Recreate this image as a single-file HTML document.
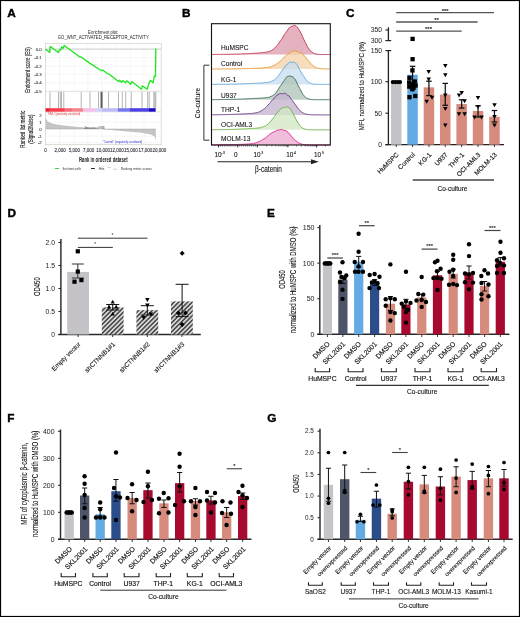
<!DOCTYPE html>
<html><head><meta charset="utf-8"><style>
html,body{margin:0;padding:0;background:#fff;width:520px;height:617px;overflow:hidden}
svg{display:block;font-family:"Liberation Sans",sans-serif;will-change:transform}
</style></head><body>
<svg width="520" height="617" viewBox="0 0 520 617">
<rect width="520" height="617" fill="#fff"/>
<rect x="0.5" y="0.5" width="519" height="616" fill="none" stroke="#000" stroke-width="1.2"/>
<text x="7.2" y="16.8" font-size="11.8" text-anchor="start" fill="#000" font-weight="bold" stroke="#000" stroke-width="0.4" >A</text>
<text x="103.3" y="33.5" font-size="4.9" text-anchor="middle" fill="#222" textLength="30.4" lengthAdjust="spacingAndGlyphs" >Enrichment plot:</text>
<text x="103.3" y="38.7" font-size="4.9" text-anchor="middle" fill="#222" textLength="90.9" lengthAdjust="spacingAndGlyphs" >GO_WNT_ACTIVATED_RECEPTOR_ACTIVITY</text>
<line x1="59.6" y1="43.3" x2="59.6" y2="91.3" stroke="#ececec" stroke-width="0.5"/>
<line x1="59.6" y1="111.9" x2="59.6" y2="144.7" stroke="#ececec" stroke-width="0.5"/>
<line x1="74" y1="43.3" x2="74" y2="91.3" stroke="#ececec" stroke-width="0.5"/>
<line x1="74" y1="111.9" x2="74" y2="144.7" stroke="#ececec" stroke-width="0.5"/>
<line x1="87.8" y1="43.3" x2="87.8" y2="91.3" stroke="#ececec" stroke-width="0.5"/>
<line x1="87.8" y1="111.9" x2="87.8" y2="144.7" stroke="#ececec" stroke-width="0.5"/>
<line x1="102.2" y1="43.3" x2="102.2" y2="91.3" stroke="#ececec" stroke-width="0.5"/>
<line x1="102.2" y1="111.9" x2="102.2" y2="144.7" stroke="#ececec" stroke-width="0.5"/>
<line x1="116" y1="43.3" x2="116" y2="91.3" stroke="#ececec" stroke-width="0.5"/>
<line x1="116" y1="111.9" x2="116" y2="144.7" stroke="#ececec" stroke-width="0.5"/>
<line x1="130" y1="43.3" x2="130" y2="91.3" stroke="#ececec" stroke-width="0.5"/>
<line x1="130" y1="111.9" x2="130" y2="144.7" stroke="#ececec" stroke-width="0.5"/>
<line x1="144" y1="43.3" x2="144" y2="91.3" stroke="#ececec" stroke-width="0.5"/>
<line x1="144" y1="111.9" x2="144" y2="144.7" stroke="#ececec" stroke-width="0.5"/>
<line x1="45.4" y1="57.58" x2="161.2" y2="57.58" stroke="#ececec" stroke-width="0.5"/>
<line x1="45.4" y1="65.96" x2="161.2" y2="65.96" stroke="#ececec" stroke-width="0.5"/>
<line x1="45.4" y1="74.34" x2="161.2" y2="74.34" stroke="#ececec" stroke-width="0.5"/>
<line x1="45.4" y1="82.72" x2="161.2" y2="82.72" stroke="#ececec" stroke-width="0.5"/>
<line x1="45.4" y1="115" x2="161.2" y2="115" stroke="#ececec" stroke-width="0.5"/>
<line x1="45.4" y1="122.2" x2="161.2" y2="122.2" stroke="#ececec" stroke-width="0.5"/>
<line x1="45.4" y1="136.2" x2="161.2" y2="136.2" stroke="#ececec" stroke-width="0.5"/>
<line x1="45.4" y1="142.8" x2="161.2" y2="142.8" stroke="#ececec" stroke-width="0.5"/>
<line x1="45.4" y1="49.2" x2="161.2" y2="49.2" stroke="#d4d4d4" stroke-width="1.3"/>
<rect x="45.4" y="43.3" width="115.8" height="101.4" fill="none" stroke="#cfcfc4" stroke-width="0.7"/>
<line x1="45.4" y1="91.3" x2="161.2" y2="91.3" stroke="#cfcfc4" stroke-width="0.6"/>
<line x1="45.4" y1="111.9" x2="161.2" y2="111.9" stroke="#cfcfc4" stroke-width="0.6"/>
<text x="41.8" y="50.8" font-size="4.4" text-anchor="end" fill="#444" stroke="#444" stroke-width="0.1" >0.0</text>
<text x="41.8" y="59.18" font-size="4.4" text-anchor="end" fill="#444" stroke="#444" stroke-width="0.1" >-0.1</text>
<text x="41.8" y="67.56" font-size="4.4" text-anchor="end" fill="#444" stroke="#444" stroke-width="0.1" >-0.2</text>
<text x="41.8" y="75.94" font-size="4.4" text-anchor="end" fill="#444" stroke="#444" stroke-width="0.1" >-0.3</text>
<text x="41.8" y="84.32" font-size="4.4" text-anchor="end" fill="#444" stroke="#444" stroke-width="0.1" >-0.4</text>
<text x="41.8" y="92.7" font-size="4.4" text-anchor="end" fill="#444" stroke="#444" stroke-width="0.1" >-0.5</text>
<text x="30" y="70" font-size="7" text-anchor="middle" fill="#222" stroke="#222" stroke-width="0.15" textLength="45.7" lengthAdjust="spacingAndGlyphs" transform="rotate(-90 30 70)" >Enrichment score (ES)</text>
<polyline points="45.4,49.2 49.8,52.4 50.3,46.4 58.4,52.6 59.6,49.6 60.7,50 61.5,47 63,48.3 64.2,45.5 79.8,57 81.1,57 90,63.4 101.5,70.8 102.6,70 107.7,73.8 109.2,74.2 118.5,81.5 119.5,80.3 121.5,82.3 123,80.8 125.4,82.8 126.9,80.8 130.8,84.3 131.8,81.5 141.5,89.2 142.3,85.8 147.2,89.2 148.5,84.6 150.3,80.3 153.1,82.8 154.3,76.2 155.5,76.6 155.8,48.5" fill="none" stroke="#1ee61e" stroke-width="1.3" stroke-linejoin="round"/>
<line x1="50" y1="91.8" x2="50" y2="108.2" stroke="#777" stroke-width="0.55"/>
<line x1="58.5" y1="91.8" x2="58.5" y2="108.2" stroke="#777" stroke-width="0.55"/>
<line x1="60.3" y1="91.8" x2="60.3" y2="108.2" stroke="#777" stroke-width="0.55"/>
<line x1="61.5" y1="91.8" x2="61.5" y2="108.2" stroke="#777" stroke-width="0.55"/>
<line x1="63.8" y1="91.8" x2="63.8" y2="108.2" stroke="#777" stroke-width="0.55"/>
<line x1="81.2" y1="91.8" x2="81.2" y2="108.2" stroke="#777" stroke-width="0.55"/>
<line x1="90" y1="91.8" x2="90" y2="108.2" stroke="#777" stroke-width="0.55"/>
<line x1="98.5" y1="91.8" x2="98.5" y2="108.2" stroke="#777" stroke-width="0.55"/>
<line x1="101.1" y1="91.8" x2="101.1" y2="108.2" stroke="#111" stroke-width="0.8"/>
<line x1="102" y1="91.8" x2="102" y2="108.2" stroke="#111" stroke-width="0.8"/>
<line x1="108.5" y1="91.8" x2="108.5" y2="108.2" stroke="#777" stroke-width="0.55"/>
<line x1="118.5" y1="91.8" x2="118.5" y2="108.2" stroke="#777" stroke-width="0.55"/>
<line x1="122.3" y1="91.8" x2="122.3" y2="108.2" stroke="#777" stroke-width="0.55"/>
<line x1="125.7" y1="91.8" x2="125.7" y2="108.2" stroke="#777" stroke-width="0.55"/>
<line x1="131.2" y1="91.8" x2="131.2" y2="108.2" stroke="#777" stroke-width="0.55"/>
<line x1="142" y1="91.8" x2="142" y2="108.2" stroke="#777" stroke-width="0.55"/>
<line x1="147.7" y1="91.8" x2="147.7" y2="108.2" stroke="#777" stroke-width="0.55"/>
<line x1="149.2" y1="91.8" x2="149.2" y2="108.2" stroke="#777" stroke-width="0.55"/>
<line x1="153.8" y1="91.8" x2="153.8" y2="108.2" stroke="#777" stroke-width="0.55"/>
<line x1="154.9" y1="91.8" x2="154.9" y2="108.2" stroke="#777" stroke-width="0.55"/>
<line x1="155.8" y1="91.8" x2="155.8" y2="108.2" stroke="#777" stroke-width="0.55"/>
<rect x="45.6" y="108.2" width="4.25" height="3.5" fill="#e41c2c" />
<rect x="49.8" y="108.2" width="15.05" height="3.5" fill="#f73a4a" />
<rect x="64.8" y="108.2" width="8.05" height="3.5" fill="#f76878" />
<rect x="72.8" y="108.2" width="10.45" height="3.5" fill="#f5848e" />
<rect x="83.2" y="108.2" width="11.65" height="3.5" fill="#f6bde6" />
<rect x="94.8" y="108.2" width="6.95" height="3.5" fill="#d2d0f8" />
<rect x="101.7" y="108.2" width="16.15" height="3.5" fill="#bdbcf6" />
<rect x="117.8" y="108.2" width="11.65" height="3.5" fill="#7575ee" />
<rect x="129.4" y="108.2" width="19.65" height="3.5" fill="#4e40e0" />
<rect x="149" y="108.2" width="6.65" height="3.5" fill="#1a0ac6" />
<text x="47.5" y="114.6" font-size="2.6" text-anchor="start" fill="#e03030" >"HML" (positively correlated)</text>
<polygon points="45.6,129 45.6,112.3 45.6,117.8 46.15,118.76 46.7,119.72 47.25,120.69 47.8,121.65 48.36,121.89 48.91,122.12 49.46,122.36 50.01,122.59 50.56,122.83 51.11,123.07 51.66,123.3 52.21,123.54 52.76,123.65 53.31,123.76 53.87,123.87 54.42,123.98 54.97,124.09 55.52,124.2 56.07,124.31 56.62,124.42 57.17,124.53 57.72,124.64 58.27,124.75 58.82,124.86 59.38,124.97 59.93,125.08 60.48,125.14 61.03,125.2 61.58,125.25 62.13,125.31 62.68,125.37 63.23,125.43 63.78,125.49 64.33,125.55 64.89,125.61 65.44,125.66 65.99,125.72 66.54,125.78 67.09,125.84 67.64,125.9 68.19,125.95 68.74,126.01 69.29,126.07 69.84,126.13 70.4,126.19 70.95,126.25 71.5,126.31 72.05,126.36 72.6,126.42 73.15,126.48 73.7,126.53 74.25,126.57 74.8,126.62 75.35,126.67 75.91,126.71 76.46,126.76 77.01,126.81 77.56,126.85 78.11,126.9 78.66,126.95 79.21,126.99 79.76,127.04 80.31,127.09 80.86,127.13 81.42,127.18 81.97,127.23 82.52,127.27 83.07,127.32 83.62,127.37 84.17,127.41 84.72,127.46 85.27,127.51 85.82,127.55 86.37,127.6 86.93,127.65 87.48,127.69 88.03,127.74 88.58,127.79 89.13,127.83 89.68,127.88 90.23,127.94 90.78,127.99 91.33,128.05 91.88,128.1 92.44,128.16 92.99,128.22 93.54,128.27 94.09,128.33 94.64,128.38 95.19,128.44 95.74,128.5 96.29,128.55 96.84,128.61 97.39,128.66 97.95,128.72 98.5,128.78 99.05,128.83 99.6,128.89 100.15,128.94 100.7,129 101.25,129.05 101.8,129.1 102.35,129.16 102.9,129.21 103.46,129.26 104.01,129.31 104.56,129.37 105.11,129.42 105.66,129.47 106.21,129.53 106.76,129.58 107.31,129.63 107.86,129.68 108.41,129.74 108.97,129.79 109.52,129.84 110.07,129.89 110.62,129.94 111.17,130 111.72,130.05 112.27,130.1 112.82,130.16 113.37,130.21 113.92,130.26 114.48,130.31 115.03,130.37 115.58,130.42 116.13,130.47 116.68,130.52 117.23,130.57 117.78,130.63 118.33,130.68 118.88,130.73 119.43,130.78 119.99,130.84 120.54,130.89 121.09,130.94 121.64,131 122.19,131.05 122.74,131.1 123.29,131.15 123.84,131.19 124.39,131.24 124.94,131.29 125.5,131.33 126.05,131.38 126.6,131.43 127.15,131.47 127.7,131.52 128.25,131.57 128.8,131.61 129.35,131.66 129.9,131.71 130.45,131.75 131.01,131.8 131.56,131.85 132.11,131.89 132.66,131.94 133.21,131.99 133.76,132.03 134.31,132.08 134.86,132.13 135.41,132.17 135.96,132.22 136.52,132.27 137.07,132.31 137.62,132.36 138.17,132.41 138.72,132.45 139.27,132.5 139.82,132.59 140.37,132.68 140.92,132.76 141.47,132.85 142.03,132.94 142.58,133.03 143.13,133.11 143.68,133.2 144.23,133.29 144.78,133.38 145.33,133.46 145.88,133.55 146.43,133.64 146.98,133.72 147.54,133.81 148.09,133.9 148.64,133.99 149.19,134.07 149.74,134.16 150.29,134.25 150.84,134.56 151.39,134.86 151.94,135.17 152.49,135.47 153.05,135.78 153.6,136.09 154.15,136.39 154.7,136.7 155.25,138.8 155.8,140.9 155.8,129" fill="#c4c4c4" />
<line x1="45.4" y1="129" x2="155.8" y2="129" stroke="#9a9a9a" stroke-width="0.4"/>
<text x="94.6" y="129" font-size="2.8" text-anchor="middle" fill="#222" textLength="20" lengthAdjust="spacingAndGlyphs" >Zero cross at 9736</text>
<text x="122.6" y="143" font-size="2.9" text-anchor="middle" fill="#3030e0" textLength="39" lengthAdjust="spacingAndGlyphs" >"Control" (negatively correlated)</text>
<text x="41.8" y="116.6" font-size="4.4" text-anchor="end" fill="#444" stroke="#444" stroke-width="0.1" >2</text>
<text x="41.8" y="123.8" font-size="4.4" text-anchor="end" fill="#444" stroke="#444" stroke-width="0.1" >1</text>
<text x="41.8" y="130.6" font-size="4.4" text-anchor="end" fill="#444" stroke="#444" stroke-width="0.1" >0</text>
<text x="41.8" y="137.8" font-size="4.4" text-anchor="end" fill="#444" stroke="#444" stroke-width="0.1" >-1</text>
<text x="41.8" y="144.4" font-size="4.4" text-anchor="end" fill="#444" stroke="#444" stroke-width="0.1" >-2</text>
<text x="24.6" y="129.2" font-size="6.6" text-anchor="middle" fill="#222" stroke="#222" stroke-width="0.15" textLength="37" lengthAdjust="spacingAndGlyphs" transform="rotate(-90 24.6 129.2)" >Ranked list metric</text>
<text x="33.4" y="129.2" font-size="6.6" text-anchor="middle" fill="#222" stroke="#222" stroke-width="0.15" textLength="29.2" lengthAdjust="spacingAndGlyphs" transform="rotate(-90 33.4 129.2)" >(Signal2Noise)</text>
<text x="45.6" y="151.9" font-size="4.5" text-anchor="middle" fill="#333" stroke="#333" stroke-width="0.1" >0</text>
<text x="60.2" y="151.9" font-size="4.5" text-anchor="middle" fill="#333" stroke="#333" stroke-width="0.1" >2,000</text>
<text x="74.4" y="151.9" font-size="4.5" text-anchor="middle" fill="#333" stroke="#333" stroke-width="0.1" >5,000</text>
<text x="88.6" y="151.9" font-size="4.5" text-anchor="middle" fill="#333" stroke="#333" stroke-width="0.1" >7,000</text>
<text x="103.1" y="151.9" font-size="4.5" text-anchor="middle" fill="#333" stroke="#333" stroke-width="0.1" >10,000</text>
<text x="117" y="151.9" font-size="4.5" text-anchor="middle" fill="#333" stroke="#333" stroke-width="0.1" >12,000</text>
<text x="131" y="151.9" font-size="4.5" text-anchor="middle" fill="#333" stroke="#333" stroke-width="0.1" >15,000</text>
<text x="145.5" y="151.9" font-size="4.5" text-anchor="middle" fill="#333" stroke="#333" stroke-width="0.1" >17,000</text>
<text x="159.5" y="151.9" font-size="4.5" text-anchor="middle" fill="#333" stroke="#333" stroke-width="0.1" >20,000</text>
<text x="103.3" y="161.7" font-size="6.3" text-anchor="middle" fill="#222" font-weight="bold" textLength="48.6" lengthAdjust="spacingAndGlyphs" >Rank in ordered dataset</text>
<line x1="54.9" y1="168.5" x2="59.2" y2="168.5" stroke="#22c022" stroke-width="0.8"/>
<text x="62.8" y="169.7" font-size="3.6" text-anchor="start" fill="#333" textLength="18.1" lengthAdjust="spacingAndGlyphs" >Enrichment profile</text>
<line x1="91" y1="168.5" x2="94.8" y2="168.5" stroke="#111" stroke-width="0.9"/>
<text x="98.9" y="169.7" font-size="3.6" text-anchor="start" fill="#333" textLength="5.6" lengthAdjust="spacingAndGlyphs" >Hits</text>
<line x1="107.4" y1="167.6" x2="111.2" y2="167.6" stroke="#aaa" stroke-width="0.5"/>
<line x1="113.2" y1="169.2" x2="117.2" y2="169.2" stroke="#999" stroke-width="0.5"/>
<text x="120.8" y="169.7" font-size="3.6" text-anchor="start" fill="#333" textLength="31" lengthAdjust="spacingAndGlyphs" >Ranking metric scores</text>
<text x="182" y="17.3" font-size="11.8" text-anchor="start" fill="#000" font-weight="bold" stroke="#000" stroke-width="0.4" >B</text>
<polygon points="211.5,54.5 211.5,54.46 212.2,54.46 212.9,54.46 213.6,54.45 214.3,54.45 215,54.45 215.7,54.44 216.4,54.44 217.1,54.43 217.8,54.43 218.5,54.42 219.2,54.42 219.9,54.41 220.6,54.4 221.3,54.4 222,54.39 222.7,54.38 223.4,54.37 224.1,54.37 224.8,54.36 225.5,54.35 226.2,54.34 226.9,54.33 227.6,54.31 228.3,54.3 229,54.29 229.7,54.28 230.4,54.26 231.1,54.25 231.8,54.23 232.5,54.22 233.2,54.2 233.9,54.18 234.6,54.16 235.3,54.15 236,54.13 236.7,54.11 237.4,54.08 238.1,54.06 238.8,54.04 239.5,54.01 240.2,53.99 240.9,53.96 241.6,53.94 242.3,53.91 243,53.88 243.7,53.85 244.4,53.82 245.1,53.79 245.8,53.76 246.5,53.72 247.2,53.69 247.9,53.65 248.6,53.62 249.3,53.58 250,53.54 250.7,53.5 251.4,53.46 252.1,53.42 252.8,53.38 253.5,53.34 254.2,53.3 254.9,53.25 255.6,53.21 256.3,53.16 257,53.12 257.7,53.07 258.4,53.02 259.1,52.97 259.8,52.91 260.5,52.87 261.2,52.8 261.9,52.73 262.6,52.65 263.3,52.57 264,52.5 264.7,52.42 265.4,52.3 266.1,52.22 266.8,52.08 267.5,51.94 268.2,51.79 268.9,51.61 269.6,51.3 270.3,51.07 271,50.76 271.7,50.39 272.4,49.87 273.1,49.51 273.8,48.97 274.5,48.35 275.2,47.57 275.9,46.79 276.6,45.93 277.3,45.27 278,44.43 278.7,43.54 279.4,42.31 280.1,41.07 280.8,40.29 281.5,39.36 282.2,38.31 282.9,37.23 283.6,35.96 284.3,34.68 285,33.72 285.7,32.95 286.4,31.82 287.1,30.84 287.8,29.79 288.5,28.57 289.2,27.83 289.9,27.36 290.6,26.85 291.3,26.4 292,26.62 292.7,25.98 293.4,25.71 294.1,25.5 294.8,25.4 295.5,25.85 296.2,26.31 296.9,27.11 297.6,27.46 298.3,28.58 299,29.72 299.7,30.81 300.4,32.08 301.1,33.32 301.8,34.92 302.5,36.56 303.2,38.08 303.9,39.67 304.6,41.08 305.3,42.7 306,43.79 306.7,45.11 307.4,46.57 308.1,47.81 308.8,48.87 309.5,49.82 310.2,50.72 310.9,51.29 311.6,51.82 312.3,52.4 313,52.87 313.7,53.3 314.4,53.62 315.1,53.83 315.8,54.01 316.5,54.1 317.2,54.23 317.9,54.32 318.6,54.35 319.3,54.4 320,54.44 320.7,54.45 321.4,54.48 322.1,54.48 322.8,54.48 323.5,54.49 324.2,54.49 324.9,54.5 325.6,54.5 326.3,54.5 327,54.5 327.7,54.5 328.4,54.5 329.1,54.5 329.8,54.5 330.3,54.5" fill="#dc9aaa" fill-opacity="0.75"/>
<polyline points="211.5,54.46 212.2,54.46 212.9,54.46 213.6,54.45 214.3,54.45 215,54.45 215.7,54.44 216.4,54.44 217.1,54.43 217.8,54.43 218.5,54.42 219.2,54.42 219.9,54.41 220.6,54.4 221.3,54.4 222,54.39 222.7,54.38 223.4,54.37 224.1,54.37 224.8,54.36 225.5,54.35 226.2,54.34 226.9,54.33 227.6,54.31 228.3,54.3 229,54.29 229.7,54.28 230.4,54.26 231.1,54.25 231.8,54.23 232.5,54.22 233.2,54.2 233.9,54.18 234.6,54.16 235.3,54.15 236,54.13 236.7,54.11 237.4,54.08 238.1,54.06 238.8,54.04 239.5,54.01 240.2,53.99 240.9,53.96 241.6,53.94 242.3,53.91 243,53.88 243.7,53.85 244.4,53.82 245.1,53.79 245.8,53.76 246.5,53.72 247.2,53.69 247.9,53.65 248.6,53.62 249.3,53.58 250,53.54 250.7,53.5 251.4,53.46 252.1,53.42 252.8,53.38 253.5,53.34 254.2,53.3 254.9,53.25 255.6,53.21 256.3,53.16 257,53.12 257.7,53.07 258.4,53.02 259.1,52.97 259.8,52.91 260.5,52.87 261.2,52.8 261.9,52.73 262.6,52.65 263.3,52.57 264,52.5 264.7,52.42 265.4,52.3 266.1,52.22 266.8,52.08 267.5,51.94 268.2,51.79 268.9,51.61 269.6,51.3 270.3,51.07 271,50.76 271.7,50.39 272.4,49.87 273.1,49.51 273.8,48.97 274.5,48.35 275.2,47.57 275.9,46.79 276.6,45.93 277.3,45.27 278,44.43 278.7,43.54 279.4,42.31 280.1,41.07 280.8,40.29 281.5,39.36 282.2,38.31 282.9,37.23 283.6,35.96 284.3,34.68 285,33.72 285.7,32.95 286.4,31.82 287.1,30.84 287.8,29.79 288.5,28.57 289.2,27.83 289.9,27.36 290.6,26.85 291.3,26.4 292,26.62 292.7,25.98 293.4,25.71 294.1,25.5 294.8,25.4 295.5,25.85 296.2,26.31 296.9,27.11 297.6,27.46 298.3,28.58 299,29.72 299.7,30.81 300.4,32.08 301.1,33.32 301.8,34.92 302.5,36.56 303.2,38.08 303.9,39.67 304.6,41.08 305.3,42.7 306,43.79 306.7,45.11 307.4,46.57 308.1,47.81 308.8,48.87 309.5,49.82 310.2,50.72 310.9,51.29 311.6,51.82 312.3,52.4 313,52.87 313.7,53.3 314.4,53.62 315.1,53.83 315.8,54.01 316.5,54.1 317.2,54.23 317.9,54.32 318.6,54.35 319.3,54.4 320,54.44 320.7,54.45 321.4,54.48 322.1,54.48 322.8,54.48 323.5,54.49 324.2,54.49 324.9,54.5 325.6,54.5 326.3,54.5 327,54.5 327.7,54.5 328.4,54.5 329.1,54.5 329.8,54.5" fill="none" stroke="#c3304f" stroke-width="0.95" stroke-linejoin="round"/>
<text x="221" y="49.8" font-size="6.6" text-anchor="start" fill="#111" stroke="#111" stroke-width="0.08" >HuMSPC</text>
<polygon points="211.5,69 211.5,68.98 212.2,68.98 212.9,68.98 213.6,68.98 214.3,68.97 215,68.97 215.7,68.97 216.4,68.97 217.1,68.97 217.8,68.96 218.5,68.96 219.2,68.96 219.9,68.95 220.6,68.95 221.3,68.95 222,68.94 222.7,68.94 223.4,68.93 224.1,68.93 224.8,68.92 225.5,68.92 226.2,68.91 226.9,68.91 227.6,68.9 228.3,68.9 229,68.89 229.7,68.88 230.4,68.87 231.1,68.87 231.8,68.86 232.5,68.85 233.2,68.84 233.9,68.83 234.6,68.82 235.3,68.81 236,68.8 236.7,68.79 237.4,68.77 238.1,68.76 238.8,68.75 239.5,68.73 240.2,68.72 240.9,68.71 241.6,68.69 242.3,68.67 243,68.66 243.7,68.64 244.4,68.62 245.1,68.6 245.8,68.59 246.5,68.57 247.2,68.55 247.9,68.53 248.6,68.5 249.3,68.48 250,68.46 250.7,68.44 251.4,68.42 252.1,68.39 252.8,68.37 253.5,68.34 254.2,68.31 254.9,68.29 255.6,68.26 256.3,68.23 257,68.2 257.7,68.18 258.4,68.15 259.1,68.12 259.8,68.08 260.5,68.05 261.2,68.01 261.9,67.97 262.6,67.91 263.3,67.86 264,67.8 264.7,67.73 265.4,67.64 266.1,67.57 266.8,67.45 267.5,67.36 268.2,67.25 268.9,67.12 269.6,67.04 270.3,66.86 271,66.7 271.7,66.55 272.4,66.18 273.1,65.97 273.8,65.64 274.5,65.21 275.2,64.83 275.9,64.49 276.6,64.03 277.3,63.53 278,62.91 278.7,62.59 279.4,61.96 280.1,61.48 280.8,60.93 281.5,60.06 282.2,59.41 282.9,58.72 283.6,57.9 284.3,57.04 285,56.57 285.7,55.93 286.4,55.38 287.1,54.83 287.8,54.15 288.5,53.75 289.2,53.27 289.9,52.88 290.6,52.13 291.3,51.77 292,51.32 292.7,50.93 293.4,51.26 294.1,51.17 294.8,50.77 295.5,50.63 296.2,51.2 296.9,51.53 297.6,51.54 298.3,51.97 299,52.21 299.7,52.68 300.4,52.64 301.1,52.77 301.8,53.03 302.5,54.09 303.2,54.59 303.9,55.28 304.6,56.43 305.3,56.93 306,57.56 306.7,58.79 307.4,59.41 308.1,60.47 308.8,61.37 309.5,61.96 310.2,62.7 310.9,63.71 311.6,64.42 312.3,65.04 313,65.66 313.7,66.23 314.4,66.68 315.1,66.98 315.8,67.43 316.5,67.67 317.2,67.92 317.9,68.19 318.6,68.35 319.3,68.45 320,68.57 320.7,68.7 321.4,68.72 322.1,68.77 322.8,68.81 323.5,68.89 324.2,68.92 324.9,68.96 325.6,68.96 326.3,68.97 327,68.99 327.7,68.99 328.4,68.99 329.1,68.99 329.8,68.99 330.3,69" fill="#f3d2a8" fill-opacity="0.75"/>
<polyline points="211.5,68.98 212.2,68.98 212.9,68.98 213.6,68.98 214.3,68.97 215,68.97 215.7,68.97 216.4,68.97 217.1,68.97 217.8,68.96 218.5,68.96 219.2,68.96 219.9,68.95 220.6,68.95 221.3,68.95 222,68.94 222.7,68.94 223.4,68.93 224.1,68.93 224.8,68.92 225.5,68.92 226.2,68.91 226.9,68.91 227.6,68.9 228.3,68.9 229,68.89 229.7,68.88 230.4,68.87 231.1,68.87 231.8,68.86 232.5,68.85 233.2,68.84 233.9,68.83 234.6,68.82 235.3,68.81 236,68.8 236.7,68.79 237.4,68.77 238.1,68.76 238.8,68.75 239.5,68.73 240.2,68.72 240.9,68.71 241.6,68.69 242.3,68.67 243,68.66 243.7,68.64 244.4,68.62 245.1,68.6 245.8,68.59 246.5,68.57 247.2,68.55 247.9,68.53 248.6,68.5 249.3,68.48 250,68.46 250.7,68.44 251.4,68.42 252.1,68.39 252.8,68.37 253.5,68.34 254.2,68.31 254.9,68.29 255.6,68.26 256.3,68.23 257,68.2 257.7,68.18 258.4,68.15 259.1,68.12 259.8,68.08 260.5,68.05 261.2,68.01 261.9,67.97 262.6,67.91 263.3,67.86 264,67.8 264.7,67.73 265.4,67.64 266.1,67.57 266.8,67.45 267.5,67.36 268.2,67.25 268.9,67.12 269.6,67.04 270.3,66.86 271,66.7 271.7,66.55 272.4,66.18 273.1,65.97 273.8,65.64 274.5,65.21 275.2,64.83 275.9,64.49 276.6,64.03 277.3,63.53 278,62.91 278.7,62.59 279.4,61.96 280.1,61.48 280.8,60.93 281.5,60.06 282.2,59.41 282.9,58.72 283.6,57.9 284.3,57.04 285,56.57 285.7,55.93 286.4,55.38 287.1,54.83 287.8,54.15 288.5,53.75 289.2,53.27 289.9,52.88 290.6,52.13 291.3,51.77 292,51.32 292.7,50.93 293.4,51.26 294.1,51.17 294.8,50.77 295.5,50.63 296.2,51.2 296.9,51.53 297.6,51.54 298.3,51.97 299,52.21 299.7,52.68 300.4,52.64 301.1,52.77 301.8,53.03 302.5,54.09 303.2,54.59 303.9,55.28 304.6,56.43 305.3,56.93 306,57.56 306.7,58.79 307.4,59.41 308.1,60.47 308.8,61.37 309.5,61.96 310.2,62.7 310.9,63.71 311.6,64.42 312.3,65.04 313,65.66 313.7,66.23 314.4,66.68 315.1,66.98 315.8,67.43 316.5,67.67 317.2,67.92 317.9,68.19 318.6,68.35 319.3,68.45 320,68.57 320.7,68.7 321.4,68.72 322.1,68.77 322.8,68.81 323.5,68.89 324.2,68.92 324.9,68.96 325.6,68.96 326.3,68.97 327,68.99 327.7,68.99 328.4,68.99 329.1,68.99 329.8,68.99" fill="none" stroke="#e59a30" stroke-width="0.95" stroke-linejoin="round"/>
<text x="221" y="66" font-size="6.6" text-anchor="start" fill="#111" stroke="#111" stroke-width="0.08" >Control</text>
<polygon points="211.5,84.4 211.5,84.36 212.2,84.36 212.9,84.36 213.6,84.36 214.3,84.35 215,84.35 215.7,84.34 216.4,84.34 217.1,84.34 217.8,84.33 218.5,84.33 219.2,84.32 219.9,84.32 220.6,84.31 221.3,84.3 222,84.3 222.7,84.29 223.4,84.28 224.1,84.27 224.8,84.27 225.5,84.26 226.2,84.25 226.9,84.24 227.6,84.23 228.3,84.22 229,84.21 229.7,84.19 230.4,84.18 231.1,84.17 231.8,84.15 232.5,84.14 233.2,84.13 233.9,84.11 234.6,84.09 235.3,84.08 236,84.06 236.7,84.04 237.4,84.02 238.1,84 238.8,83.98 239.5,83.96 240.2,83.94 240.9,83.92 241.6,83.9 242.3,83.87 243,83.85 243.7,83.82 244.4,83.8 245.1,83.77 245.8,83.74 246.5,83.72 247.2,83.69 247.9,83.66 248.6,83.63 249.3,83.6 250,83.57 250.7,83.53 251.4,83.5 252.1,83.47 252.8,83.44 253.5,83.4 254.2,83.37 254.9,83.33 255.6,83.3 256.3,83.27 257,83.23 257.7,83.19 258.4,83.15 259.1,83.12 259.8,83.08 260.5,83.04 261.2,83 261.9,82.96 262.6,82.91 263.3,82.87 264,82.79 264.7,82.72 265.4,82.65 266.1,82.59 266.8,82.47 267.5,82.38 268.2,82.27 268.9,82.17 269.6,81.99 270.3,81.76 271,81.51 271.7,81.27 272.4,80.91 273.1,80.62 273.8,80.2 274.5,79.77 275.2,79.17 275.9,78.64 276.6,78.05 277.3,77.26 278,76.46 278.7,75.45 279.4,74.47 280.1,73.36 280.8,72.32 281.5,71.24 282.2,70.08 282.9,69.31 283.6,68.53 284.3,67.23 285,66.75 285.7,65.73 286.4,64.91 287.1,64.71 287.8,63.74 288.5,62.96 289.2,62.63 289.9,62.27 290.6,61.96 291.3,62.39 292,62.33 292.7,62.29 293.4,62.09 294.1,62.16 294.8,62.42 295.5,63.07 296.2,63.55 296.9,64.43 297.6,65.4 298.3,66.84 299,68.35 299.7,69.68 300.4,70.85 301.1,72.24 301.8,73.13 302.5,74.34 303.2,75.5 303.9,76.64 304.6,77.69 305.3,78.75 306,79.86 306.7,80.51 307.4,81.15 308.1,81.8 308.8,82.33 309.5,82.75 310.2,83.2 310.9,83.43 311.6,83.7 312.3,83.91 313,84.05 313.7,84.12 314.4,84.21 315.1,84.25 315.8,84.28 316.5,84.32 317.2,84.35 317.9,84.37 318.6,84.38 319.3,84.38 320,84.39 320.7,84.39 321.4,84.4 322.1,84.4 322.8,84.4 323.5,84.4 324.2,84.4 324.9,84.4 325.6,84.4 326.3,84.4 327,84.4 327.7,84.4 328.4,84.4 329.1,84.4 329.8,84.4 330.3,84.4" fill="#c5dcef" fill-opacity="0.75"/>
<polyline points="211.5,84.36 212.2,84.36 212.9,84.36 213.6,84.36 214.3,84.35 215,84.35 215.7,84.34 216.4,84.34 217.1,84.34 217.8,84.33 218.5,84.33 219.2,84.32 219.9,84.32 220.6,84.31 221.3,84.3 222,84.3 222.7,84.29 223.4,84.28 224.1,84.27 224.8,84.27 225.5,84.26 226.2,84.25 226.9,84.24 227.6,84.23 228.3,84.22 229,84.21 229.7,84.19 230.4,84.18 231.1,84.17 231.8,84.15 232.5,84.14 233.2,84.13 233.9,84.11 234.6,84.09 235.3,84.08 236,84.06 236.7,84.04 237.4,84.02 238.1,84 238.8,83.98 239.5,83.96 240.2,83.94 240.9,83.92 241.6,83.9 242.3,83.87 243,83.85 243.7,83.82 244.4,83.8 245.1,83.77 245.8,83.74 246.5,83.72 247.2,83.69 247.9,83.66 248.6,83.63 249.3,83.6 250,83.57 250.7,83.53 251.4,83.5 252.1,83.47 252.8,83.44 253.5,83.4 254.2,83.37 254.9,83.33 255.6,83.3 256.3,83.27 257,83.23 257.7,83.19 258.4,83.15 259.1,83.12 259.8,83.08 260.5,83.04 261.2,83 261.9,82.96 262.6,82.91 263.3,82.87 264,82.79 264.7,82.72 265.4,82.65 266.1,82.59 266.8,82.47 267.5,82.38 268.2,82.27 268.9,82.17 269.6,81.99 270.3,81.76 271,81.51 271.7,81.27 272.4,80.91 273.1,80.62 273.8,80.2 274.5,79.77 275.2,79.17 275.9,78.64 276.6,78.05 277.3,77.26 278,76.46 278.7,75.45 279.4,74.47 280.1,73.36 280.8,72.32 281.5,71.24 282.2,70.08 282.9,69.31 283.6,68.53 284.3,67.23 285,66.75 285.7,65.73 286.4,64.91 287.1,64.71 287.8,63.74 288.5,62.96 289.2,62.63 289.9,62.27 290.6,61.96 291.3,62.39 292,62.33 292.7,62.29 293.4,62.09 294.1,62.16 294.8,62.42 295.5,63.07 296.2,63.55 296.9,64.43 297.6,65.4 298.3,66.84 299,68.35 299.7,69.68 300.4,70.85 301.1,72.24 301.8,73.13 302.5,74.34 303.2,75.5 303.9,76.64 304.6,77.69 305.3,78.75 306,79.86 306.7,80.51 307.4,81.15 308.1,81.8 308.8,82.33 309.5,82.75 310.2,83.2 310.9,83.43 311.6,83.7 312.3,83.91 313,84.05 313.7,84.12 314.4,84.21 315.1,84.25 315.8,84.28 316.5,84.32 317.2,84.35 317.9,84.37 318.6,84.38 319.3,84.38 320,84.39 320.7,84.39 321.4,84.4 322.1,84.4 322.8,84.4 323.5,84.4 324.2,84.4 324.9,84.4 325.6,84.4 326.3,84.4 327,84.4 327.7,84.4 328.4,84.4 329.1,84.4 329.8,84.4" fill="none" stroke="#5fa7dc" stroke-width="0.95" stroke-linejoin="round"/>
<text x="221" y="81.5" font-size="6.6" text-anchor="start" fill="#111" stroke="#111" stroke-width="0.08" >KG-1</text>
<polygon points="211.5,99.7 211.5,99.65 212.2,99.65 212.9,99.65 213.6,99.64 214.3,99.64 215,99.63 215.7,99.63 216.4,99.62 217.1,99.62 217.8,99.61 218.5,99.6 219.2,99.6 219.9,99.59 220.6,99.58 221.3,99.57 222,99.57 222.7,99.56 223.4,99.55 224.1,99.54 224.8,99.53 225.5,99.52 226.2,99.5 226.9,99.49 227.6,99.48 228.3,99.47 229,99.45 229.7,99.44 230.4,99.42 231.1,99.41 231.8,99.39 232.5,99.37 233.2,99.36 233.9,99.34 234.6,99.32 235.3,99.3 236,99.28 236.7,99.25 237.4,99.23 238.1,99.21 238.8,99.19 239.5,99.16 240.2,99.14 240.9,99.11 241.6,99.08 242.3,99.05 243,99.03 243.7,99 244.4,98.97 245.1,98.94 245.8,98.9 246.5,98.87 247.2,98.84 247.9,98.81 248.6,98.77 249.3,98.74 250,98.7 250.7,98.67 251.4,98.63 252.1,98.59 252.8,98.56 253.5,98.52 254.2,98.48 254.9,98.44 255.6,98.41 256.3,98.37 257,98.33 257.7,98.29 258.4,98.25 259.1,98.21 259.8,98.17 260.5,98.12 261.2,98.09 261.9,98.04 262.6,98 263.3,97.94 264,97.89 264.7,97.84 265.4,97.78 266.1,97.68 266.8,97.61 267.5,97.5 268.2,97.38 268.9,97.24 269.6,97.01 270.3,96.72 271,96.49 271.7,96.14 272.4,95.8 273.1,95.32 273.8,94.81 274.5,94.29 275.2,93.67 275.9,92.94 276.6,91.84 277.3,90.9 278,90.03 278.7,88.69 279.4,87.33 280.1,86.33 280.8,85.45 281.5,84.43 282.2,83.46 282.9,82.27 283.6,81.37 284.3,80.37 285,79.46 285.7,78.4 286.4,77.29 287.1,76.59 287.8,76.37 288.5,76.21 289.2,76.01 289.9,76.06 290.6,76.11 291.3,76.52 292,76.76 292.7,76.56 293.4,77.53 294.1,78.2 294.8,78.98 295.5,79.81 296.2,81.4 296.9,82.9 297.6,84.43 298.3,85.84 299,87.26 299.7,88.4 300.4,89.72 301.1,91.01 301.8,92.62 302.5,93.94 303.2,94.8 303.9,95.57 304.6,96.42 305.3,97.09 306,97.77 306.7,98.21 307.4,98.49 308.1,98.77 308.8,98.99 309.5,99.16 310.2,99.35 310.9,99.48 311.6,99.56 312.3,99.6 313,99.63 313.7,99.64 314.4,99.66 315.1,99.67 315.8,99.68 316.5,99.69 317.2,99.69 317.9,99.7 318.6,99.7 319.3,99.7 320,99.7 320.7,99.7 321.4,99.7 322.1,99.7 322.8,99.7 323.5,99.7 324.2,99.7 324.9,99.7 325.6,99.7 326.3,99.7 327,99.7 327.7,99.7 328.4,99.7 329.1,99.7 329.8,99.7 330.3,99.7" fill="#aec3b6" fill-opacity="0.75"/>
<polyline points="211.5,99.65 212.2,99.65 212.9,99.65 213.6,99.64 214.3,99.64 215,99.63 215.7,99.63 216.4,99.62 217.1,99.62 217.8,99.61 218.5,99.6 219.2,99.6 219.9,99.59 220.6,99.58 221.3,99.57 222,99.57 222.7,99.56 223.4,99.55 224.1,99.54 224.8,99.53 225.5,99.52 226.2,99.5 226.9,99.49 227.6,99.48 228.3,99.47 229,99.45 229.7,99.44 230.4,99.42 231.1,99.41 231.8,99.39 232.5,99.37 233.2,99.36 233.9,99.34 234.6,99.32 235.3,99.3 236,99.28 236.7,99.25 237.4,99.23 238.1,99.21 238.8,99.19 239.5,99.16 240.2,99.14 240.9,99.11 241.6,99.08 242.3,99.05 243,99.03 243.7,99 244.4,98.97 245.1,98.94 245.8,98.9 246.5,98.87 247.2,98.84 247.9,98.81 248.6,98.77 249.3,98.74 250,98.7 250.7,98.67 251.4,98.63 252.1,98.59 252.8,98.56 253.5,98.52 254.2,98.48 254.9,98.44 255.6,98.41 256.3,98.37 257,98.33 257.7,98.29 258.4,98.25 259.1,98.21 259.8,98.17 260.5,98.12 261.2,98.09 261.9,98.04 262.6,98 263.3,97.94 264,97.89 264.7,97.84 265.4,97.78 266.1,97.68 266.8,97.61 267.5,97.5 268.2,97.38 268.9,97.24 269.6,97.01 270.3,96.72 271,96.49 271.7,96.14 272.4,95.8 273.1,95.32 273.8,94.81 274.5,94.29 275.2,93.67 275.9,92.94 276.6,91.84 277.3,90.9 278,90.03 278.7,88.69 279.4,87.33 280.1,86.33 280.8,85.45 281.5,84.43 282.2,83.46 282.9,82.27 283.6,81.37 284.3,80.37 285,79.46 285.7,78.4 286.4,77.29 287.1,76.59 287.8,76.37 288.5,76.21 289.2,76.01 289.9,76.06 290.6,76.11 291.3,76.52 292,76.76 292.7,76.56 293.4,77.53 294.1,78.2 294.8,78.98 295.5,79.81 296.2,81.4 296.9,82.9 297.6,84.43 298.3,85.84 299,87.26 299.7,88.4 300.4,89.72 301.1,91.01 301.8,92.62 302.5,93.94 303.2,94.8 303.9,95.57 304.6,96.42 305.3,97.09 306,97.77 306.7,98.21 307.4,98.49 308.1,98.77 308.8,98.99 309.5,99.16 310.2,99.35 310.9,99.48 311.6,99.56 312.3,99.6 313,99.63 313.7,99.64 314.4,99.66 315.1,99.67 315.8,99.68 316.5,99.69 317.2,99.69 317.9,99.7 318.6,99.7 319.3,99.7 320,99.7 320.7,99.7 321.4,99.7 322.1,99.7 322.8,99.7 323.5,99.7 324.2,99.7 324.9,99.7 325.6,99.7 326.3,99.7 327,99.7 327.7,99.7 328.4,99.7 329.1,99.7 329.8,99.7" fill="none" stroke="#3e6b55" stroke-width="0.95" stroke-linejoin="round"/>
<text x="221" y="98.1" font-size="6.6" text-anchor="start" fill="#111" stroke="#111" stroke-width="0.08" >U937</text>
<polygon points="211.5,114.9 211.5,114.81 212.2,114.8 212.9,114.8 213.6,114.79 214.3,114.78 215,114.77 215.7,114.77 216.4,114.76 217.1,114.75 217.8,114.74 218.5,114.73 219.2,114.72 219.9,114.71 220.6,114.69 221.3,114.68 222,114.67 222.7,114.66 223.4,114.64 224.1,114.63 224.8,114.61 225.5,114.6 226.2,114.58 226.9,114.56 227.6,114.54 228.3,114.53 229,114.51 229.7,114.49 230.4,114.47 231.1,114.44 231.8,114.42 232.5,114.4 233.2,114.38 233.9,114.35 234.6,114.33 235.3,114.3 236,114.28 236.7,114.25 237.4,114.22 238.1,114.19 238.8,114.17 239.5,114.14 240.2,114.1 240.9,114.07 241.6,114.04 242.3,114.01 243,113.98 243.7,113.95 244.4,113.91 245.1,113.88 245.8,113.84 246.5,113.8 247.2,113.75 247.9,113.71 248.6,113.65 249.3,113.6 250,113.56 250.7,113.52 251.4,113.44 252.1,113.36 252.8,113.31 253.5,113.21 254.2,113.12 254.9,113.01 255.6,112.89 256.3,112.77 257,112.64 257.7,112.45 258.4,112.21 259.1,111.84 259.8,111.63 260.5,111.18 261.2,110.91 261.9,110.53 262.6,109.96 263.3,109.38 264,108.92 264.7,108.53 265.4,107.86 266.1,107.21 266.8,106.26 267.5,105.71 268.2,104.98 268.9,103.91 269.6,103.42 270.3,102.57 271,101.46 271.7,100.48 272.4,100.08 273.1,99.55 273.8,98.94 274.5,97.64 275.2,97.13 275.9,96.2 276.6,95.31 277.3,95.08 278,94.86 278.7,94.02 279.4,93.74 280.1,93.82 280.8,93.44 281.5,93.57 282.2,93.7 282.9,94.05 283.6,93.55 284.3,93.21 285,93.38 285.7,93.36 286.4,94.36 287.1,95 287.8,95.44 288.5,95.62 289.2,96.07 289.9,97.17 290.6,98.32 291.3,99.26 292,100.19 292.7,100.87 293.4,102.21 294.1,103.01 294.8,103.96 295.5,104.87 296.2,105.84 296.9,106.86 297.6,107.92 298.3,108.85 299,109.66 299.7,110.23 300.4,111.04 301.1,111.67 301.8,112.06 302.5,112.57 303.2,113.04 303.9,113.42 304.6,113.63 305.3,113.88 306,114 306.7,114.14 307.4,114.27 308.1,114.45 308.8,114.59 309.5,114.68 310.2,114.72 310.9,114.75 311.6,114.79 312.3,114.83 313,114.85 313.7,114.86 314.4,114.87 315.1,114.87 315.8,114.88 316.5,114.88 317.2,114.89 317.9,114.89 318.6,114.9 319.3,114.9 320,114.9 320.7,114.9 321.4,114.9 322.1,114.9 322.8,114.9 323.5,114.9 324.2,114.9 324.9,114.9 325.6,114.9 326.3,114.9 327,114.9 327.7,114.9 328.4,114.9 329.1,114.9 329.8,114.9 330.3,114.9" fill="#c4b2cc" fill-opacity="0.75"/>
<polyline points="211.5,114.81 212.2,114.8 212.9,114.8 213.6,114.79 214.3,114.78 215,114.77 215.7,114.77 216.4,114.76 217.1,114.75 217.8,114.74 218.5,114.73 219.2,114.72 219.9,114.71 220.6,114.69 221.3,114.68 222,114.67 222.7,114.66 223.4,114.64 224.1,114.63 224.8,114.61 225.5,114.6 226.2,114.58 226.9,114.56 227.6,114.54 228.3,114.53 229,114.51 229.7,114.49 230.4,114.47 231.1,114.44 231.8,114.42 232.5,114.4 233.2,114.38 233.9,114.35 234.6,114.33 235.3,114.3 236,114.28 236.7,114.25 237.4,114.22 238.1,114.19 238.8,114.17 239.5,114.14 240.2,114.1 240.9,114.07 241.6,114.04 242.3,114.01 243,113.98 243.7,113.95 244.4,113.91 245.1,113.88 245.8,113.84 246.5,113.8 247.2,113.75 247.9,113.71 248.6,113.65 249.3,113.6 250,113.56 250.7,113.52 251.4,113.44 252.1,113.36 252.8,113.31 253.5,113.21 254.2,113.12 254.9,113.01 255.6,112.89 256.3,112.77 257,112.64 257.7,112.45 258.4,112.21 259.1,111.84 259.8,111.63 260.5,111.18 261.2,110.91 261.9,110.53 262.6,109.96 263.3,109.38 264,108.92 264.7,108.53 265.4,107.86 266.1,107.21 266.8,106.26 267.5,105.71 268.2,104.98 268.9,103.91 269.6,103.42 270.3,102.57 271,101.46 271.7,100.48 272.4,100.08 273.1,99.55 273.8,98.94 274.5,97.64 275.2,97.13 275.9,96.2 276.6,95.31 277.3,95.08 278,94.86 278.7,94.02 279.4,93.74 280.1,93.82 280.8,93.44 281.5,93.57 282.2,93.7 282.9,94.05 283.6,93.55 284.3,93.21 285,93.38 285.7,93.36 286.4,94.36 287.1,95 287.8,95.44 288.5,95.62 289.2,96.07 289.9,97.17 290.6,98.32 291.3,99.26 292,100.19 292.7,100.87 293.4,102.21 294.1,103.01 294.8,103.96 295.5,104.87 296.2,105.84 296.9,106.86 297.6,107.92 298.3,108.85 299,109.66 299.7,110.23 300.4,111.04 301.1,111.67 301.8,112.06 302.5,112.57 303.2,113.04 303.9,113.42 304.6,113.63 305.3,113.88 306,114 306.7,114.14 307.4,114.27 308.1,114.45 308.8,114.59 309.5,114.68 310.2,114.72 310.9,114.75 311.6,114.79 312.3,114.83 313,114.85 313.7,114.86 314.4,114.87 315.1,114.87 315.8,114.88 316.5,114.88 317.2,114.89 317.9,114.89 318.6,114.9 319.3,114.9 320,114.9 320.7,114.9 321.4,114.9 322.1,114.9 322.8,114.9 323.5,114.9 324.2,114.9 324.9,114.9 325.6,114.9 326.3,114.9 327,114.9 327.7,114.9 328.4,114.9 329.1,114.9 329.8,114.9" fill="none" stroke="#6e3e8c" stroke-width="0.95" stroke-linejoin="round"/>
<text x="221" y="111.9" font-size="6.6" text-anchor="start" fill="#111" stroke="#111" stroke-width="0.08" >THP-1</text>
<polygon points="211.5,129.8 211.5,129.73 212.2,129.73 212.9,129.72 213.6,129.72 214.3,129.71 215,129.7 215.7,129.7 216.4,129.69 217.1,129.68 217.8,129.67 218.5,129.66 219.2,129.66 219.9,129.65 220.6,129.64 221.3,129.63 222,129.62 222.7,129.6 223.4,129.59 224.1,129.58 224.8,129.57 225.5,129.55 226.2,129.54 226.9,129.52 227.6,129.51 228.3,129.49 229,129.47 229.7,129.46 230.4,129.44 231.1,129.42 231.8,129.4 232.5,129.38 233.2,129.36 233.9,129.34 234.6,129.31 235.3,129.29 236,129.26 236.7,129.24 237.4,129.21 238.1,129.19 238.8,129.16 239.5,129.13 240.2,129.1 240.9,129.07 241.6,129.04 242.3,129.01 243,128.98 243.7,128.95 244.4,128.92 245.1,128.89 245.8,128.85 246.5,128.82 247.2,128.78 247.9,128.75 248.6,128.71 249.3,128.67 250,128.63 250.7,128.59 251.4,128.56 252.1,128.51 252.8,128.47 253.5,128.44 254.2,128.38 254.9,128.33 255.6,128.26 256.3,128.2 257,128.12 257.7,128.05 258.4,127.98 259.1,127.91 259.8,127.78 260.5,127.62 261.2,127.42 261.9,127.3 262.6,127.07 263.3,126.84 264,126.56 264.7,126.3 265.4,125.96 266.1,125.51 266.8,124.91 267.5,124.54 268.2,123.95 268.9,123.2 269.6,122.36 270.3,121.84 271,121.23 271.7,120.13 272.4,119.05 273.1,118.27 273.8,117.67 274.5,116.4 275.2,115.58 275.9,114.37 276.6,113.46 277.3,112.41 278,111.94 278.7,110.89 279.4,110.42 280.1,109.76 280.8,108.78 281.5,108.03 282.2,107.99 282.9,107.85 283.6,107.53 284.3,107.2 285,107.12 285.7,107.32 286.4,107.36 287.1,106.94 287.8,106.71 288.5,107.56 289.2,107.9 289.9,108.31 290.6,109.6 291.3,110.18 292,111.65 292.7,112.71 293.4,113.98 294.1,115.28 294.8,116.85 295.5,118.28 296.2,119.58 296.9,120.95 297.6,122.11 298.3,123.32 299,124.4 299.7,125.5 300.4,126.21 301.1,126.9 301.8,127.56 302.5,127.97 303.2,128.35 303.9,128.72 304.6,129.03 305.3,129.23 306,129.42 306.7,129.54 307.4,129.61 308.1,129.68 308.8,129.72 309.5,129.74 310.2,129.77 310.9,129.77 311.6,129.79 312.3,129.79 313,129.79 313.7,129.79 314.4,129.8 315.1,129.8 315.8,129.8 316.5,129.8 317.2,129.8 317.9,129.8 318.6,129.8 319.3,129.8 320,129.8 320.7,129.8 321.4,129.8 322.1,129.8 322.8,129.8 323.5,129.8 324.2,129.8 324.9,129.8 325.6,129.8 326.3,129.8 327,129.8 327.7,129.8 328.4,129.8 329.1,129.8 329.8,129.8 330.3,129.8" fill="#d2e7c2" fill-opacity="0.75"/>
<polyline points="211.5,129.73 212.2,129.73 212.9,129.72 213.6,129.72 214.3,129.71 215,129.7 215.7,129.7 216.4,129.69 217.1,129.68 217.8,129.67 218.5,129.66 219.2,129.66 219.9,129.65 220.6,129.64 221.3,129.63 222,129.62 222.7,129.6 223.4,129.59 224.1,129.58 224.8,129.57 225.5,129.55 226.2,129.54 226.9,129.52 227.6,129.51 228.3,129.49 229,129.47 229.7,129.46 230.4,129.44 231.1,129.42 231.8,129.4 232.5,129.38 233.2,129.36 233.9,129.34 234.6,129.31 235.3,129.29 236,129.26 236.7,129.24 237.4,129.21 238.1,129.19 238.8,129.16 239.5,129.13 240.2,129.1 240.9,129.07 241.6,129.04 242.3,129.01 243,128.98 243.7,128.95 244.4,128.92 245.1,128.89 245.8,128.85 246.5,128.82 247.2,128.78 247.9,128.75 248.6,128.71 249.3,128.67 250,128.63 250.7,128.59 251.4,128.56 252.1,128.51 252.8,128.47 253.5,128.44 254.2,128.38 254.9,128.33 255.6,128.26 256.3,128.2 257,128.12 257.7,128.05 258.4,127.98 259.1,127.91 259.8,127.78 260.5,127.62 261.2,127.42 261.9,127.3 262.6,127.07 263.3,126.84 264,126.56 264.7,126.3 265.4,125.96 266.1,125.51 266.8,124.91 267.5,124.54 268.2,123.95 268.9,123.2 269.6,122.36 270.3,121.84 271,121.23 271.7,120.13 272.4,119.05 273.1,118.27 273.8,117.67 274.5,116.4 275.2,115.58 275.9,114.37 276.6,113.46 277.3,112.41 278,111.94 278.7,110.89 279.4,110.42 280.1,109.76 280.8,108.78 281.5,108.03 282.2,107.99 282.9,107.85 283.6,107.53 284.3,107.2 285,107.12 285.7,107.32 286.4,107.36 287.1,106.94 287.8,106.71 288.5,107.56 289.2,107.9 289.9,108.31 290.6,109.6 291.3,110.18 292,111.65 292.7,112.71 293.4,113.98 294.1,115.28 294.8,116.85 295.5,118.28 296.2,119.58 296.9,120.95 297.6,122.11 298.3,123.32 299,124.4 299.7,125.5 300.4,126.21 301.1,126.9 301.8,127.56 302.5,127.97 303.2,128.35 303.9,128.72 304.6,129.03 305.3,129.23 306,129.42 306.7,129.54 307.4,129.61 308.1,129.68 308.8,129.72 309.5,129.74 310.2,129.77 310.9,129.77 311.6,129.79 312.3,129.79 313,129.79 313.7,129.79 314.4,129.8 315.1,129.8 315.8,129.8 316.5,129.8 317.2,129.8 317.9,129.8 318.6,129.8 319.3,129.8 320,129.8 320.7,129.8 321.4,129.8 322.1,129.8 322.8,129.8 323.5,129.8 324.2,129.8 324.9,129.8 325.6,129.8 326.3,129.8 327,129.8 327.7,129.8 328.4,129.8 329.1,129.8 329.8,129.8" fill="none" stroke="#6cb043" stroke-width="0.95" stroke-linejoin="round"/>
<text x="221" y="126.7" font-size="6.6" text-anchor="start" fill="#111" stroke="#111" stroke-width="0.08" >OCI-AML3</text>
<polygon points="211.5,145 211.5,144.93 212.2,144.92 212.9,144.92 213.6,144.91 214.3,144.9 215,144.9 215.7,144.89 216.4,144.88 217.1,144.88 217.8,144.87 218.5,144.86 219.2,144.85 219.9,144.84 220.6,144.83 221.3,144.82 222,144.81 222.7,144.8 223.4,144.79 224.1,144.78 224.8,144.77 225.5,144.76 226.2,144.74 226.9,144.73 227.6,144.72 228.3,144.7 229,144.69 229.7,144.67 230.4,144.66 231.1,144.64 231.8,144.62 232.5,144.61 233.2,144.59 233.9,144.57 234.6,144.55 235.3,144.53 236,144.51 236.7,144.49 237.4,144.47 238.1,144.45 238.8,144.43 239.5,144.4 240.2,144.38 240.9,144.35 241.6,144.33 242.3,144.3 243,144.28 243.7,144.26 244.4,144.23 245.1,144.19 245.8,144.15 246.5,144.11 247.2,144.05 247.9,144.02 248.6,143.98 249.3,143.9 250,143.87 250.7,143.82 251.4,143.73 252.1,143.65 252.8,143.53 253.5,143.42 254.2,143.24 254.9,143.06 255.6,142.93 256.3,142.69 257,142.47 257.7,142.31 258.4,141.89 259.1,141.69 259.8,141.47 260.5,141.21 261.2,140.71 261.9,140.13 262.6,139.62 263.3,139.27 264,138.93 264.7,138.66 265.4,137.96 266.1,137.36 266.8,136.89 267.5,136.22 268.2,135.71 268.9,134.86 269.6,134.26 270.3,134.03 271,133.22 271.7,133.18 272.4,132.62 273.1,132.22 273.8,131.97 274.5,131.84 275.2,131.04 275.9,131.12 276.6,130.62 277.3,129.91 278,130.14 278.7,130.2 279.4,129.86 280.1,129.74 280.8,129.56 281.5,129.31 282.2,129.71 282.9,129.92 283.6,130.15 284.3,130.65 285,130.37 285.7,130.51 286.4,130.89 287.1,131.97 287.8,132.21 288.5,132.74 289.2,133.6 289.9,134.24 290.6,135.16 291.3,136.18 292,137.17 292.7,137.98 293.4,138.86 294.1,139.49 294.8,139.93 295.5,140.48 296.2,140.98 296.9,141.53 297.6,142.19 298.3,142.63 299,143.05 299.7,143.33 300.4,143.65 301.1,143.97 301.8,144.15 302.5,144.27 303.2,144.48 303.9,144.56 304.6,144.71 305.3,144.8 306,144.86 306.7,144.87 307.4,144.89 308.1,144.91 308.8,144.95 309.5,144.95 310.2,144.97 310.9,144.99 311.6,144.98 312.3,144.99 313,144.99 313.7,144.99 314.4,144.99 315.1,145 315.8,145 316.5,145 317.2,145 317.9,145 318.6,145 319.3,145 320,145 320.7,145 321.4,145 322.1,145 322.8,145 323.5,145 324.2,145 324.9,145 325.6,145 326.3,145 327,145 327.7,145 328.4,145 329.1,145 329.8,145 330.3,145" fill="#eea6cf" fill-opacity="0.75"/>
<polyline points="211.5,144.93 212.2,144.92 212.9,144.92 213.6,144.91 214.3,144.9 215,144.9 215.7,144.89 216.4,144.88 217.1,144.88 217.8,144.87 218.5,144.86 219.2,144.85 219.9,144.84 220.6,144.83 221.3,144.82 222,144.81 222.7,144.8 223.4,144.79 224.1,144.78 224.8,144.77 225.5,144.76 226.2,144.74 226.9,144.73 227.6,144.72 228.3,144.7 229,144.69 229.7,144.67 230.4,144.66 231.1,144.64 231.8,144.62 232.5,144.61 233.2,144.59 233.9,144.57 234.6,144.55 235.3,144.53 236,144.51 236.7,144.49 237.4,144.47 238.1,144.45 238.8,144.43 239.5,144.4 240.2,144.38 240.9,144.35 241.6,144.33 242.3,144.3 243,144.28 243.7,144.26 244.4,144.23 245.1,144.19 245.8,144.15 246.5,144.11 247.2,144.05 247.9,144.02 248.6,143.98 249.3,143.9 250,143.87 250.7,143.82 251.4,143.73 252.1,143.65 252.8,143.53 253.5,143.42 254.2,143.24 254.9,143.06 255.6,142.93 256.3,142.69 257,142.47 257.7,142.31 258.4,141.89 259.1,141.69 259.8,141.47 260.5,141.21 261.2,140.71 261.9,140.13 262.6,139.62 263.3,139.27 264,138.93 264.7,138.66 265.4,137.96 266.1,137.36 266.8,136.89 267.5,136.22 268.2,135.71 268.9,134.86 269.6,134.26 270.3,134.03 271,133.22 271.7,133.18 272.4,132.62 273.1,132.22 273.8,131.97 274.5,131.84 275.2,131.04 275.9,131.12 276.6,130.62 277.3,129.91 278,130.14 278.7,130.2 279.4,129.86 280.1,129.74 280.8,129.56 281.5,129.31 282.2,129.71 282.9,129.92 283.6,130.15 284.3,130.65 285,130.37 285.7,130.51 286.4,130.89 287.1,131.97 287.8,132.21 288.5,132.74 289.2,133.6 289.9,134.24 290.6,135.16 291.3,136.18 292,137.17 292.7,137.98 293.4,138.86 294.1,139.49 294.8,139.93 295.5,140.48 296.2,140.98 296.9,141.53 297.6,142.19 298.3,142.63 299,143.05 299.7,143.33 300.4,143.65 301.1,143.97 301.8,144.15 302.5,144.27 303.2,144.48 303.9,144.56 304.6,144.71 305.3,144.8 306,144.86 306.7,144.87 307.4,144.89 308.1,144.91 308.8,144.95 309.5,144.95 310.2,144.97 310.9,144.99 311.6,144.98 312.3,144.99 313,144.99 313.7,144.99 314.4,144.99 315.1,145 315.8,145 316.5,145 317.2,145 317.9,145 318.6,145 319.3,145 320,145 320.7,145 321.4,145 322.1,145 322.8,145 323.5,145 324.2,145 324.9,145 325.6,145 326.3,145 327,145 327.7,145 328.4,145 329.1,145 329.8,145" fill="none" stroke="#e0238c" stroke-width="0.95" stroke-linejoin="round"/>
<text x="221" y="140.5" font-size="6.6" text-anchor="start" fill="#111" stroke="#111" stroke-width="0.08" >MOLM-13</text>
<rect x="211.5" y="23.7" width="118.8" height="121.3" fill="none" stroke="#111" stroke-width="1.1"/>
<polyline points="209.4,65.2 203.9,65.2 203.9,140.2 209.4,140.2" fill="none" stroke="#333" stroke-width="1" />
<text x="200.2" y="103" font-size="6.6" text-anchor="middle" fill="#111" stroke="#111" stroke-width="0.08" transform="rotate(-90 200.2 103)" >Co-culture</text>
<line x1="218.6" y1="145" x2="218.6" y2="147.4" stroke="#111" stroke-width="0.9"/>
<line x1="237.7" y1="145" x2="237.7" y2="147.4" stroke="#111" stroke-width="0.9"/>
<line x1="257.3" y1="145" x2="257.3" y2="147.4" stroke="#111" stroke-width="0.9"/>
<line x1="287.9" y1="145" x2="287.9" y2="147.4" stroke="#111" stroke-width="0.9"/>
<line x1="316.7" y1="145" x2="316.7" y2="147.4" stroke="#111" stroke-width="0.9"/>
<line x1="220.51" y1="145" x2="220.51" y2="146.5" stroke="#222" stroke-width="0.6"/>
<line x1="239.66" y1="145" x2="239.66" y2="146.5" stroke="#222" stroke-width="0.6"/>
<line x1="222.42" y1="145" x2="222.42" y2="146.5" stroke="#222" stroke-width="0.6"/>
<line x1="241.62" y1="145" x2="241.62" y2="146.5" stroke="#222" stroke-width="0.6"/>
<line x1="224.33" y1="145" x2="224.33" y2="146.5" stroke="#222" stroke-width="0.6"/>
<line x1="243.58" y1="145" x2="243.58" y2="146.5" stroke="#222" stroke-width="0.6"/>
<line x1="226.24" y1="145" x2="226.24" y2="146.5" stroke="#222" stroke-width="0.6"/>
<line x1="245.54" y1="145" x2="245.54" y2="146.5" stroke="#222" stroke-width="0.6"/>
<line x1="228.15" y1="145" x2="228.15" y2="146.5" stroke="#222" stroke-width="0.6"/>
<line x1="247.5" y1="145" x2="247.5" y2="146.5" stroke="#222" stroke-width="0.6"/>
<line x1="230.06" y1="145" x2="230.06" y2="146.5" stroke="#222" stroke-width="0.6"/>
<line x1="249.46" y1="145" x2="249.46" y2="146.5" stroke="#222" stroke-width="0.6"/>
<line x1="231.97" y1="145" x2="231.97" y2="146.5" stroke="#222" stroke-width="0.6"/>
<line x1="251.42" y1="145" x2="251.42" y2="146.5" stroke="#222" stroke-width="0.6"/>
<line x1="233.88" y1="145" x2="233.88" y2="146.5" stroke="#222" stroke-width="0.6"/>
<line x1="253.38" y1="145" x2="253.38" y2="146.5" stroke="#222" stroke-width="0.6"/>
<line x1="235.79" y1="145" x2="235.79" y2="146.5" stroke="#222" stroke-width="0.6"/>
<line x1="255.34" y1="145" x2="255.34" y2="146.5" stroke="#222" stroke-width="0.6"/>
<line x1="266.51" y1="145" x2="266.51" y2="146.5" stroke="#222" stroke-width="0.6"/>
<line x1="271.9" y1="145" x2="271.9" y2="146.5" stroke="#222" stroke-width="0.6"/>
<line x1="275.72" y1="145" x2="275.72" y2="146.5" stroke="#222" stroke-width="0.6"/>
<line x1="278.69" y1="145" x2="278.69" y2="146.5" stroke="#222" stroke-width="0.6"/>
<line x1="281.11" y1="145" x2="281.11" y2="146.5" stroke="#222" stroke-width="0.6"/>
<line x1="283.16" y1="145" x2="283.16" y2="146.5" stroke="#222" stroke-width="0.6"/>
<line x1="284.93" y1="145" x2="284.93" y2="146.5" stroke="#222" stroke-width="0.6"/>
<line x1="286.5" y1="145" x2="286.5" y2="146.5" stroke="#222" stroke-width="0.6"/>
<line x1="296.57" y1="145" x2="296.57" y2="146.5" stroke="#222" stroke-width="0.6"/>
<line x1="301.64" y1="145" x2="301.64" y2="146.5" stroke="#222" stroke-width="0.6"/>
<line x1="305.24" y1="145" x2="305.24" y2="146.5" stroke="#222" stroke-width="0.6"/>
<line x1="308.03" y1="145" x2="308.03" y2="146.5" stroke="#222" stroke-width="0.6"/>
<line x1="310.31" y1="145" x2="310.31" y2="146.5" stroke="#222" stroke-width="0.6"/>
<line x1="312.24" y1="145" x2="312.24" y2="146.5" stroke="#222" stroke-width="0.6"/>
<line x1="313.91" y1="145" x2="313.91" y2="146.5" stroke="#222" stroke-width="0.6"/>
<line x1="315.38" y1="145" x2="315.38" y2="146.5" stroke="#222" stroke-width="0.6"/>
<line x1="325.37" y1="145" x2="325.37" y2="146.5" stroke="#222" stroke-width="0.6"/>
<text x="218" y="156.9" font-size="6.4" text-anchor="middle" fill="#111" stroke="#111" stroke-width="0.08" >10</text>
<text x="223.2" y="154.4" font-size="4.2" text-anchor="middle" fill="#111" stroke="#111" stroke-width="0.05" >-3</text>
<text x="257" y="156.9" font-size="6.4" text-anchor="middle" fill="#111" stroke="#111" stroke-width="0.08" >10</text>
<text x="262.2" y="154.4" font-size="4.2" text-anchor="middle" fill="#111" stroke="#111" stroke-width="0.05" >3</text>
<text x="289.7" y="156.9" font-size="6.4" text-anchor="middle" fill="#111" stroke="#111" stroke-width="0.08" >10</text>
<text x="294.9" y="154.4" font-size="4.2" text-anchor="middle" fill="#111" stroke="#111" stroke-width="0.05" >4</text>
<text x="317.6" y="156.9" font-size="6.4" text-anchor="middle" fill="#111" stroke="#111" stroke-width="0.08" >10</text>
<text x="322.8" y="154.4" font-size="4.2" text-anchor="middle" fill="#111" stroke="#111" stroke-width="0.05" >5</text>
<text x="235.75" y="156.9" font-size="6.4" text-anchor="middle" fill="#111" stroke="#111" stroke-width="0.08" >0</text>
<line x1="217.5" y1="161.75" x2="313" y2="161.75" stroke="#222" stroke-width="1"/>
<polygon points="311,159.3 318.8,161.75 311,164.2" fill="#222" />
<text x="268.5" y="172" font-size="8.2" text-anchor="middle" fill="#111" stroke="#111" stroke-width="0.1" textLength="27" lengthAdjust="spacingAndGlyphs" >β-catenin</text>
<text x="346" y="17.3" font-size="11.8" text-anchor="start" fill="#000" font-weight="bold" stroke="#000" stroke-width="0.4" >C</text>
<line x1="388.4" y1="50.6" x2="388.4" y2="144.7" stroke="#222" stroke-width="1.3"/>
<line x1="385.4" y1="144.7" x2="504" y2="144.7" stroke="#222" stroke-width="1.3"/>
<line x1="385.4" y1="50.6" x2="391.2" y2="50.6" stroke="#222" stroke-width="1.2"/>
<line x1="385.4" y1="144.7" x2="388.4" y2="144.7" stroke="#222" stroke-width="1.1"/>
<text x="382.2" y="147.1" font-size="6.9" text-anchor="end" fill="#2a2a2a" stroke="#2a2a2a" stroke-width="0.03" >0</text>
<line x1="385.4" y1="113.2" x2="388.4" y2="113.2" stroke="#222" stroke-width="1.1"/>
<text x="382.2" y="115.6" font-size="6.9" text-anchor="end" fill="#2a2a2a" stroke="#2a2a2a" stroke-width="0.03" >50</text>
<line x1="385.4" y1="81.7" x2="388.4" y2="81.7" stroke="#222" stroke-width="1.1"/>
<text x="382.2" y="84.1" font-size="6.9" text-anchor="end" fill="#2a2a2a" stroke="#2a2a2a" stroke-width="0.03" >100</text>
<text x="382.2" y="53" font-size="6.9" text-anchor="end" fill="#2a2a2a" stroke="#2a2a2a" stroke-width="0.03" >150</text>
<line x1="388.4" y1="27.3" x2="388.4" y2="40.6" stroke="#222" stroke-width="1.3"/>
<line x1="385.4" y1="30" x2="388.4" y2="30" stroke="#222" stroke-width="1.1"/>
<line x1="385.4" y1="40.6" x2="391.2" y2="40.6" stroke="#222" stroke-width="1.2"/>
<text x="382.2" y="32.4" font-size="6.9" text-anchor="end" fill="#2a2a2a" stroke="#2a2a2a" stroke-width="0.03" >350</text>
<text x="382.2" y="43" font-size="6.9" text-anchor="end" fill="#2a2a2a" stroke="#2a2a2a" stroke-width="0.03" >300</text>
<text x="364.5" y="86.2" font-size="8" text-anchor="middle" fill="#111" stroke="#111" stroke-width="0.1" textLength="88.2" lengthAdjust="spacingAndGlyphs" transform="rotate(-90 364.5 86.2)" >MFI, normalized to HuMSPC (%)</text>
<rect x="391" y="81.7" width="10.5" height="63" fill="#c5c3c8" />
<line x1="396.25" y1="144.7" x2="396.25" y2="147" stroke="#222" stroke-width="0.9"/>
<text x="399.15" y="155.2" font-size="6.5" text-anchor="end" fill="#111" stroke="#111" stroke-width="0.15" transform="rotate(-45 399.15 155.2)" >HuMSPC</text>
<rect x="407.3" y="74.77" width="10.5" height="69.93" fill="#64aae3" />
<line x1="412.55" y1="144.7" x2="412.55" y2="147" stroke="#222" stroke-width="0.9"/>
<text x="415.45" y="155.2" font-size="6.5" text-anchor="end" fill="#111" stroke="#111" stroke-width="0.15" transform="rotate(-45 415.45 155.2)" >Control</text>
<rect x="423.7" y="87.37" width="10.5" height="57.33" fill="#d68b7d" />
<line x1="428.95" y1="144.7" x2="428.95" y2="147" stroke="#222" stroke-width="0.9"/>
<text x="431.85" y="155.2" font-size="6.5" text-anchor="end" fill="#111" stroke="#111" stroke-width="0.15" transform="rotate(-45 431.85 155.2)" >KG-1</text>
<rect x="440" y="94.61" width="10.5" height="50.09" fill="#d68b7d" />
<line x1="445.25" y1="144.7" x2="445.25" y2="147" stroke="#222" stroke-width="0.9"/>
<text x="448.15" y="155.2" font-size="6.5" text-anchor="end" fill="#111" stroke="#111" stroke-width="0.15" transform="rotate(-45 448.15 155.2)" >U937</text>
<rect x="456.4" y="104.06" width="10.5" height="40.63" fill="#d68b7d" />
<line x1="461.65" y1="144.7" x2="461.65" y2="147" stroke="#222" stroke-width="0.9"/>
<text x="464.55" y="155.2" font-size="6.5" text-anchor="end" fill="#111" stroke="#111" stroke-width="0.15" transform="rotate(-45 464.55 155.2)" >THP-1</text>
<rect x="472.8" y="110.99" width="10.5" height="33.7" fill="#d68b7d" />
<line x1="478.05" y1="144.7" x2="478.05" y2="147" stroke="#222" stroke-width="0.9"/>
<text x="480.95" y="155.2" font-size="6.5" text-anchor="end" fill="#111" stroke="#111" stroke-width="0.15" transform="rotate(-45 480.95 155.2)" >OCI-AML3</text>
<rect x="489.2" y="116.66" width="10.5" height="28.03" fill="#d68b7d" />
<line x1="494.45" y1="144.7" x2="494.45" y2="147" stroke="#222" stroke-width="0.9"/>
<text x="497.35" y="155.2" font-size="6.5" text-anchor="end" fill="#111" stroke="#111" stroke-width="0.15" transform="rotate(-45 497.35 155.2)" >MOLM-13</text>
<line x1="396.2" y1="12.6" x2="494" y2="12.6" stroke="#555" stroke-width="1.4"/>
<text x="445.2" y="12.6" font-size="6" text-anchor="middle" fill="#222" stroke="#222" stroke-width="0.15" >***</text>
<line x1="396.2" y1="22" x2="477.6" y2="22" stroke="#555" stroke-width="1.4"/>
<text x="436.6" y="22" font-size="6" text-anchor="middle" fill="#222" stroke="#222" stroke-width="0.15" >**</text>
<line x1="396.2" y1="31.1" x2="461.7" y2="31.1" stroke="#555" stroke-width="1.4"/>
<text x="428.5" y="31.1" font-size="6" text-anchor="middle" fill="#222" stroke="#222" stroke-width="0.15" >***</text>
<circle cx="392.8" cy="82.1" r="2.1" fill="#000"/>
<circle cx="395.3" cy="82.1" r="2.1" fill="#000"/>
<circle cx="397.8" cy="82.1" r="2.1" fill="#000"/>
<circle cx="400" cy="82.1" r="2.1" fill="#000"/>
<line x1="412.55" y1="66.3" x2="412.55" y2="89" stroke="#111" stroke-width="1.25"/>
<line x1="409.75" y1="66.3" x2="415.35" y2="66.3" stroke="#111" stroke-width="1.25"/>
<line x1="409.75" y1="89" x2="415.35" y2="89" stroke="#111" stroke-width="1.25"/>
<rect x="410.45" y="36.75" width="4.3" height="4.3" fill="#000" />
<rect x="410.45" y="57.05" width="4.3" height="4.3" fill="#000" />
<rect x="410.25" y="68.25" width="4.3" height="4.3" fill="#000" />
<rect x="407.35" y="75.65" width="4.3" height="4.3" fill="#000" />
<rect x="412.65" y="79.35" width="4.3" height="4.3" fill="#000" />
<rect x="407.05" y="80.35" width="4.3" height="4.3" fill="#000" />
<rect x="410.25" y="82.35" width="4.3" height="4.3" fill="#000" />
<rect x="413.45" y="83.35" width="4.3" height="4.3" fill="#000" />
<rect x="407.15" y="84.45" width="4.3" height="4.3" fill="#000" />
<rect x="411.35" y="85.35" width="4.3" height="4.3" fill="#000" />
<rect x="410.25" y="87.15" width="4.3" height="4.3" fill="#000" />
<rect x="407.35" y="95.05" width="4.3" height="4.3" fill="#000" />
<rect x="413.15" y="93.85" width="4.3" height="4.3" fill="#000" />
<line x1="428.95" y1="81.2" x2="428.95" y2="95.6" stroke="#111" stroke-width="1.25"/>
<line x1="426.15" y1="81.2" x2="431.75" y2="81.2" stroke="#111" stroke-width="1.25"/>
<line x1="426.15" y1="95.6" x2="431.75" y2="95.6" stroke="#111" stroke-width="1.25"/>
<polygon points="426.45,70.07 430.95,70.07 428.7,74.12" fill="#000" />
<polygon points="426.45,77.38 430.95,77.38 428.7,81.43" fill="#000" />
<polygon points="424.45,99.67 428.95,99.67 426.7,103.73" fill="#000" />
<polygon points="429.75,95.67 434.25,95.67 432,99.73" fill="#000" />
<line x1="445.25" y1="83.4" x2="445.25" y2="105.3" stroke="#111" stroke-width="1.25"/>
<line x1="442.45" y1="83.4" x2="448.05" y2="83.4" stroke="#111" stroke-width="1.25"/>
<line x1="442.45" y1="105.3" x2="448.05" y2="105.3" stroke="#111" stroke-width="1.25"/>
<polygon points="443.05,63.98 447.55,63.98 445.3,68.03" fill="#000" />
<polygon points="443.05,73.17 447.55,73.17 445.3,77.23" fill="#000" />
<polygon points="443.05,93.47 447.55,93.47 445.3,97.53" fill="#000" />
<polygon points="443.05,106.97 447.55,106.97 445.3,111.03" fill="#000" />
<polygon points="443.05,123.38 447.55,123.38 445.3,127.43" fill="#000" />
<line x1="461.65" y1="99.8" x2="461.65" y2="108.1" stroke="#111" stroke-width="1.25"/>
<line x1="458.85" y1="99.8" x2="464.45" y2="99.8" stroke="#111" stroke-width="1.25"/>
<line x1="458.85" y1="108.1" x2="464.45" y2="108.1" stroke="#111" stroke-width="1.25"/>
<polygon points="456.75,93.47 461.25,93.47 459,97.53" fill="#000" />
<polygon points="459.45,90.88 463.95,90.88 461.7,94.93" fill="#000" />
<polygon points="462.35,99.17 466.85,99.17 464.6,103.23" fill="#000" />
<polygon points="456.75,112.17 461.25,112.17 459,116.23" fill="#000" />
<polygon points="462.35,112.17 466.85,112.17 464.6,116.23" fill="#000" />
<line x1="478.05" y1="105.8" x2="478.05" y2="117" stroke="#111" stroke-width="1.25"/>
<line x1="475.25" y1="105.8" x2="480.85" y2="105.8" stroke="#111" stroke-width="1.25"/>
<line x1="475.25" y1="117" x2="480.85" y2="117" stroke="#111" stroke-width="1.25"/>
<polygon points="475.75,95.97 480.25,95.97 478,100.03" fill="#000" />
<polygon points="475.75,104.97 480.25,104.97 478,109.03" fill="#000" />
<polygon points="472.25,115.57 476.75,115.57 474.5,119.62" fill="#000" />
<polygon points="479.25,115.57 483.75,115.57 481.5,119.62" fill="#000" />
<line x1="494.45" y1="110.5" x2="494.45" y2="122" stroke="#111" stroke-width="1.25"/>
<line x1="491.65" y1="110.5" x2="497.25" y2="110.5" stroke="#111" stroke-width="1.25"/>
<line x1="491.65" y1="122" x2="497.25" y2="122" stroke="#111" stroke-width="1.25"/>
<polygon points="492.25,103.27 496.75,103.27 494.5,107.33" fill="#000" />
<polygon points="492.25,114.97 496.75,114.97 494.5,119.03" fill="#000" />
<polygon points="492.25,123.38 496.75,123.38 494.5,127.43" fill="#000" />
<line x1="412.7" y1="180" x2="494" y2="180" stroke="#444" stroke-width="1.3"/>
<text x="452.5" y="191" font-size="6.5" text-anchor="middle" fill="#111" stroke="#111" stroke-width="0.12" >Co-culture</text>
<text x="7.6" y="217.3" font-size="11.8" text-anchor="start" fill="#000" font-weight="bold" stroke="#000" stroke-width="0.4" >D</text>
<line x1="60.9" y1="239.1" x2="60.9" y2="334.5" stroke="#2a2a2a" stroke-width="1.45"/>
<line x1="58.4" y1="334.5" x2="200.8" y2="334.5" stroke="#2a2a2a" stroke-width="1.45"/>
<line x1="58.4" y1="334.5" x2="60.9" y2="334.5" stroke="#222" stroke-width="1"/>
<text x="55" y="336.8" font-size="6.8" text-anchor="end" fill="#2a2a2a" stroke="#2a2a2a" stroke-width="0.03" >0</text>
<line x1="58.4" y1="311.5" x2="60.9" y2="311.5" stroke="#222" stroke-width="1"/>
<text x="55" y="313.8" font-size="6.8" text-anchor="end" fill="#2a2a2a" stroke="#2a2a2a" stroke-width="0.03" >0.5</text>
<line x1="58.4" y1="288.5" x2="60.9" y2="288.5" stroke="#222" stroke-width="1"/>
<text x="55" y="290.8" font-size="6.8" text-anchor="end" fill="#2a2a2a" stroke="#2a2a2a" stroke-width="0.03" >1.0</text>
<line x1="58.4" y1="265.5" x2="60.9" y2="265.5" stroke="#222" stroke-width="1"/>
<text x="55" y="267.8" font-size="6.8" text-anchor="end" fill="#2a2a2a" stroke="#2a2a2a" stroke-width="0.03" >1.5</text>
<line x1="58.4" y1="242.5" x2="60.9" y2="242.5" stroke="#222" stroke-width="1"/>
<text x="55" y="244.8" font-size="6.8" text-anchor="end" fill="#2a2a2a" stroke="#2a2a2a" stroke-width="0.03" >2.0</text>
<text x="40.2" y="286.7" font-size="8.6" text-anchor="middle" fill="#111" stroke="#111" stroke-width="0.1" textLength="18.8" lengthAdjust="spacingAndGlyphs" transform="rotate(-90 40.2 286.7)" >OD450</text>
<defs><pattern id="hatch" patternUnits="userSpaceOnUse" width="3.2" height="3.2" patternTransform="rotate(45)"><rect width="3.2" height="3.2" fill="#d9d9d9"/><rect width="1.5" height="3.2" fill="#444"/></pattern></defs>
<rect x="67.2" y="271.94" width="21.8" height="62.56" fill="#c5c3c8" />
<line x1="78.1" y1="334.5" x2="78.1" y2="337" stroke="#222" stroke-width="0.9"/>
<text x="81.1" y="344.6" font-size="6.5" text-anchor="end" fill="#111" stroke="#111" stroke-width="0.1" transform="rotate(-45 81.1 344.6)" >Empty vector</text>
<rect x="101.8" y="307.36" width="21.8" height="27.14" fill="url(#hatch)" />
<line x1="112.7" y1="334.5" x2="112.7" y2="337" stroke="#222" stroke-width="0.9"/>
<text x="115.7" y="344.6" font-size="6.5" text-anchor="end" fill="#111" stroke="#111" stroke-width="0.1" transform="rotate(-45 115.7 344.6)" >shCTNNB1#1</text>
<rect x="136.4" y="310.12" width="21.8" height="24.38" fill="url(#hatch)" />
<line x1="147.3" y1="334.5" x2="147.3" y2="337" stroke="#222" stroke-width="0.9"/>
<text x="150.3" y="344.6" font-size="6.5" text-anchor="end" fill="#111" stroke="#111" stroke-width="0.1" transform="rotate(-45 150.3 344.6)" >shCTNNB1#2</text>
<rect x="171" y="301.38" width="21.8" height="33.12" fill="url(#hatch)" />
<line x1="181.9" y1="334.5" x2="181.9" y2="337" stroke="#222" stroke-width="0.9"/>
<text x="184.9" y="344.6" font-size="6.5" text-anchor="end" fill="#111" stroke="#111" stroke-width="0.1" transform="rotate(-45 184.9 344.6)" >shCTNNB1#3</text>
<line x1="77.8" y1="264" x2="77.8" y2="278" stroke="#333" stroke-width="1"/>
<line x1="71.8" y1="264" x2="83.8" y2="264" stroke="#333" stroke-width="1"/>
<line x1="71.8" y1="278" x2="83.8" y2="278" stroke="#333" stroke-width="1"/>
<rect x="75.7" y="249.2" width="4.2" height="4.2" fill="#000" />
<rect x="75.7" y="269.5" width="4.2" height="4.2" fill="#000" />
<rect x="72.4" y="279.6" width="4.2" height="4.2" fill="#000" />
<rect x="79.3" y="278" width="4.2" height="4.2" fill="#000" />
<line x1="112.7" y1="304.5" x2="112.7" y2="310" stroke="#111" stroke-width="1"/>
<line x1="106.2" y1="304.5" x2="119.2" y2="304.5" stroke="#111" stroke-width="1"/>
<line x1="106.2" y1="310" x2="119.2" y2="310" stroke="#111" stroke-width="1"/>
<polygon points="110.6,303.49 114.8,303.49 112.7,299.71" fill="#000" />
<polygon points="106.9,308.39 111.1,308.39 109,304.61" fill="#000" />
<polygon points="114.1,308.39 118.3,308.39 116.2,304.61" fill="#000" />
<polygon points="110.6,315.59 114.8,315.59 112.7,311.81" fill="#000" />
<line x1="147.3" y1="305.7" x2="147.3" y2="315" stroke="#111" stroke-width="1"/>
<line x1="140.8" y1="305.7" x2="153.8" y2="305.7" stroke="#111" stroke-width="1"/>
<line x1="140.8" y1="315" x2="153.8" y2="315" stroke="#111" stroke-width="1"/>
<polygon points="145.15,297.88 149.65,297.88 147.4,301.92" fill="#000" />
<polygon points="145.15,303.38 149.65,303.38 147.4,307.42" fill="#000" />
<polygon points="141.35,315.98 145.85,315.98 143.6,320.02" fill="#000" />
<polygon points="148.65,312.58 153.15,312.58 150.9,316.62" fill="#000" />
<line x1="182.1" y1="284.3" x2="182.1" y2="316.6" stroke="#111" stroke-width="1"/>
<line x1="175.6" y1="284.3" x2="188.6" y2="284.3" stroke="#111" stroke-width="1"/>
<line x1="175.6" y1="316.6" x2="188.6" y2="316.6" stroke="#111" stroke-width="1"/>
<polygon points="182.2,250.7 184.7,253.2 182.2,255.7 179.7,253.2" fill="#000" />
<polygon points="178.3,310.4 180.8,312.9 178.3,315.4 175.8,312.9" fill="#000" />
<polygon points="185.5,310.5 188,313 185.5,315.5 183,313" fill="#000" />
<polygon points="182.2,321.9 184.7,324.4 182.2,326.9 179.7,324.4" fill="#000" />
<line x1="77.9" y1="238.2" x2="147.4" y2="238.2" stroke="#333" stroke-width="1"/>
<text x="112.5" y="237" font-size="4.8" text-anchor="middle" fill="#222" >*</text>
<line x1="77.9" y1="247.4" x2="112.8" y2="247.4" stroke="#333" stroke-width="1"/>
<text x="95.2" y="246.2" font-size="4.8" text-anchor="middle" fill="#222" >*</text>
<text x="267" y="217.3" font-size="11.8" text-anchor="start" fill="#000" font-weight="bold" stroke="#000" stroke-width="0.4" >E</text>
<line x1="319.8" y1="225" x2="319.8" y2="334.3" stroke="#2a2a2a" stroke-width="1.45"/>
<line x1="317.3" y1="334.3" x2="509.4" y2="334.3" stroke="#2a2a2a" stroke-width="1.45"/>
<line x1="317.3" y1="334.3" x2="319.8" y2="334.3" stroke="#222" stroke-width="1"/>
<text x="314.5" y="336.7" font-size="7" text-anchor="end" fill="#2a2a2a" stroke="#2a2a2a" stroke-width="0.03" >0</text>
<line x1="317.3" y1="298.74" x2="319.8" y2="298.74" stroke="#222" stroke-width="1"/>
<text x="314.5" y="301.13" font-size="7" text-anchor="end" fill="#2a2a2a" stroke="#2a2a2a" stroke-width="0.03" >50</text>
<line x1="317.3" y1="263.17" x2="319.8" y2="263.17" stroke="#222" stroke-width="1"/>
<text x="314.5" y="265.57" font-size="7" text-anchor="end" fill="#2a2a2a" stroke="#2a2a2a" stroke-width="0.03" >100</text>
<line x1="317.3" y1="227.61" x2="319.8" y2="227.61" stroke="#222" stroke-width="1"/>
<text x="314.5" y="230.01" font-size="7" text-anchor="end" fill="#2a2a2a" stroke="#2a2a2a" stroke-width="0.03" >150</text>
<text x="285.4" y="279.5" font-size="8.4" text-anchor="middle" fill="#111" stroke="#111" stroke-width="0.1" textLength="18.5" lengthAdjust="spacingAndGlyphs" transform="rotate(-90 285.4 279.5)" >OD450</text>
<text x="296.4" y="279.7" font-size="8.3" text-anchor="middle" fill="#111" stroke="#111" stroke-width="0.1" textLength="106.6" lengthAdjust="spacingAndGlyphs" transform="rotate(-90 296.4 279.7)" >normalized to HuMSPC with DMSO (%)</text>
<rect x="322.8" y="263.17" width="9.2" height="71.13" fill="#c5c3c8" />
<line x1="327.4" y1="334.3" x2="327.4" y2="337" stroke="#222" stroke-width="0.9"/>
<text x="330.2" y="344.5" font-size="6.95" text-anchor="end" fill="#111" stroke="#111" stroke-width="0.15" transform="rotate(-45 330.2 344.5)" >DMSO</text>
<rect x="338.3" y="279.53" width="9.2" height="54.77" fill="#4f5568" />
<line x1="342.9" y1="334.3" x2="342.9" y2="337" stroke="#222" stroke-width="0.9"/>
<text x="345.7" y="344.5" font-size="6.95" text-anchor="end" fill="#111" stroke="#111" stroke-width="0.15" transform="rotate(-45 345.7 344.5)" >SKL2001</text>
<rect x="354.1" y="261.75" width="9.2" height="72.55" fill="#64aae3" />
<line x1="358.7" y1="334.3" x2="358.7" y2="337" stroke="#222" stroke-width="0.9"/>
<text x="361.5" y="344.5" font-size="6.95" text-anchor="end" fill="#111" stroke="#111" stroke-width="0.15" transform="rotate(-45 361.5 344.5)" >DMSO</text>
<rect x="370" y="280.95" width="9.2" height="53.35" fill="#2b4d8a" />
<line x1="374.6" y1="334.3" x2="374.6" y2="337" stroke="#222" stroke-width="0.9"/>
<text x="377.4" y="344.5" font-size="6.95" text-anchor="end" fill="#111" stroke="#111" stroke-width="0.15" transform="rotate(-45 377.4 344.5)" >SKL2001</text>
<rect x="385.9" y="303.71" width="9.2" height="30.59" fill="#d68b7d" />
<line x1="390.5" y1="334.3" x2="390.5" y2="337" stroke="#222" stroke-width="0.9"/>
<text x="393.3" y="344.5" font-size="6.95" text-anchor="end" fill="#111" stroke="#111" stroke-width="0.15" transform="rotate(-45 393.3 344.5)" >DMSO</text>
<rect x="401.3" y="304.43" width="9.2" height="29.87" fill="#a8092f" />
<line x1="405.9" y1="334.3" x2="405.9" y2="337" stroke="#222" stroke-width="0.9"/>
<text x="408.7" y="344.5" font-size="6.95" text-anchor="end" fill="#111" stroke="#111" stroke-width="0.15" transform="rotate(-45 408.7 344.5)" >SKL2001</text>
<rect x="417.2" y="297.31" width="9.2" height="36.99" fill="#d68b7d" />
<line x1="421.8" y1="334.3" x2="421.8" y2="337" stroke="#222" stroke-width="0.9"/>
<text x="424.6" y="344.5" font-size="6.95" text-anchor="end" fill="#111" stroke="#111" stroke-width="0.15" transform="rotate(-45 424.6 344.5)" >DMSO</text>
<rect x="432.9" y="275.26" width="9.2" height="59.04" fill="#a8092f" />
<line x1="437.5" y1="334.3" x2="437.5" y2="337" stroke="#222" stroke-width="0.9"/>
<text x="440.3" y="344.5" font-size="6.95" text-anchor="end" fill="#111" stroke="#111" stroke-width="0.15" transform="rotate(-45 440.3 344.5)" >SKL2001</text>
<rect x="448.6" y="273.84" width="9.2" height="60.46" fill="#d68b7d" />
<line x1="453.2" y1="334.3" x2="453.2" y2="337" stroke="#222" stroke-width="0.9"/>
<text x="456" y="344.5" font-size="6.95" text-anchor="end" fill="#111" stroke="#111" stroke-width="0.15" transform="rotate(-45 456 344.5)" >DMSO</text>
<rect x="464.4" y="272.42" width="9.2" height="61.88" fill="#a8092f" />
<line x1="469" y1="334.3" x2="469" y2="337" stroke="#222" stroke-width="0.9"/>
<text x="471.8" y="344.5" font-size="6.95" text-anchor="end" fill="#111" stroke="#111" stroke-width="0.15" transform="rotate(-45 471.8 344.5)" >SKL2001</text>
<rect x="480" y="285.93" width="9.2" height="48.37" fill="#d68b7d" />
<line x1="484.6" y1="334.3" x2="484.6" y2="337" stroke="#222" stroke-width="0.9"/>
<text x="487.4" y="344.5" font-size="6.95" text-anchor="end" fill="#111" stroke="#111" stroke-width="0.15" transform="rotate(-45 487.4 344.5)" >DMSO</text>
<rect x="495.7" y="261.75" width="9.2" height="72.55" fill="#a8092f" />
<line x1="500.3" y1="334.3" x2="500.3" y2="337" stroke="#222" stroke-width="0.9"/>
<text x="503.1" y="344.5" font-size="6.95" text-anchor="end" fill="#111" stroke="#111" stroke-width="0.15" transform="rotate(-45 503.1 344.5)" >SKL2001</text>
<circle cx="324.8" cy="263.4" r="2.2" fill="#000"/>
<circle cx="325.9" cy="263.4" r="2.2" fill="#000"/>
<circle cx="327" cy="263.4" r="2.2" fill="#000"/>
<circle cx="328.1" cy="263.4" r="2.2" fill="#000"/>
<circle cx="329.2" cy="263.4" r="2.2" fill="#000"/>
<circle cx="330.3" cy="263.4" r="2.2" fill="#000"/>
<line x1="342.9" y1="276" x2="342.9" y2="283.5" stroke="#111" stroke-width="1"/>
<line x1="340.3" y1="276" x2="345.5" y2="276" stroke="#111" stroke-width="1"/>
<line x1="340.3" y1="283.5" x2="345.5" y2="283.5" stroke="#111" stroke-width="1"/>
<circle cx="342.5" cy="262.3" r="2.2" fill="#000"/>
<circle cx="340" cy="272.5" r="2.2" fill="#000"/>
<circle cx="346.3" cy="275.4" r="2.2" fill="#000"/>
<circle cx="341.4" cy="277" r="2.2" fill="#000"/>
<circle cx="344.6" cy="278" r="2.2" fill="#000"/>
<circle cx="340" cy="282" r="2.2" fill="#000"/>
<circle cx="342.5" cy="289.8" r="2.2" fill="#000"/>
<circle cx="342.5" cy="298.9" r="2.2" fill="#000"/>
<line x1="358.7" y1="256.4" x2="358.7" y2="267" stroke="#111" stroke-width="1"/>
<line x1="356.1" y1="256.4" x2="361.3" y2="256.4" stroke="#111" stroke-width="1"/>
<line x1="356.1" y1="267" x2="361.3" y2="267" stroke="#111" stroke-width="1"/>
<circle cx="358.6" cy="233.8" r="2.2" fill="#000"/>
<circle cx="358.6" cy="251.7" r="2.2" fill="#000"/>
<circle cx="354.7" cy="262" r="2.2" fill="#000"/>
<circle cx="363" cy="262" r="2.2" fill="#000"/>
<circle cx="358.6" cy="266.5" r="2.2" fill="#000"/>
<circle cx="355" cy="271.8" r="2.2" fill="#000"/>
<circle cx="363" cy="271.8" r="2.2" fill="#000"/>
<circle cx="358.6" cy="271.8" r="2.2" fill="#000"/>
<line x1="374.6" y1="279.7" x2="374.6" y2="285.5" stroke="#111" stroke-width="1"/>
<line x1="372" y1="279.7" x2="377.2" y2="279.7" stroke="#111" stroke-width="1"/>
<line x1="372" y1="285.5" x2="377.2" y2="285.5" stroke="#111" stroke-width="1"/>
<circle cx="374.6" cy="274" r="2.2" fill="#000"/>
<circle cx="369.7" cy="275" r="2.2" fill="#000"/>
<circle cx="379.5" cy="276.7" r="2.2" fill="#000"/>
<circle cx="374.6" cy="281.3" r="2.2" fill="#000"/>
<circle cx="372" cy="282.4" r="2.2" fill="#000"/>
<circle cx="377.5" cy="283.5" r="2.2" fill="#000"/>
<circle cx="369.5" cy="288.1" r="2.2" fill="#000"/>
<circle cx="379" cy="288.1" r="2.2" fill="#000"/>
<line x1="390.5" y1="296.6" x2="390.5" y2="310.5" stroke="#111" stroke-width="1"/>
<line x1="387.9" y1="296.6" x2="393.1" y2="296.6" stroke="#111" stroke-width="1"/>
<line x1="387.9" y1="310.5" x2="393.1" y2="310.5" stroke="#111" stroke-width="1"/>
<circle cx="390.4" cy="264.4" r="2.2" fill="#000"/>
<circle cx="390.4" cy="298.3" r="2.2" fill="#000"/>
<circle cx="385.7" cy="299.3" r="2.2" fill="#000"/>
<circle cx="394.8" cy="299.3" r="2.2" fill="#000"/>
<circle cx="385.7" cy="305.7" r="2.2" fill="#000"/>
<circle cx="390.4" cy="312" r="2.2" fill="#000"/>
<circle cx="394.8" cy="313.1" r="2.2" fill="#000"/>
<circle cx="390.4" cy="320.5" r="2.2" fill="#000"/>
<line x1="405.9" y1="299.3" x2="405.9" y2="309" stroke="#111" stroke-width="1"/>
<line x1="403.3" y1="299.3" x2="408.5" y2="299.3" stroke="#111" stroke-width="1"/>
<line x1="403.3" y1="309" x2="408.5" y2="309" stroke="#111" stroke-width="1"/>
<circle cx="406" cy="271.8" r="2.2" fill="#000"/>
<circle cx="406" cy="301.4" r="2.2" fill="#000"/>
<circle cx="401.7" cy="303.6" r="2.2" fill="#000"/>
<circle cx="410.5" cy="302.9" r="2.2" fill="#000"/>
<circle cx="404" cy="306.7" r="2.2" fill="#000"/>
<circle cx="408" cy="309.9" r="2.2" fill="#000"/>
<circle cx="406" cy="312" r="2.2" fill="#000"/>
<circle cx="406" cy="322.6" r="2.2" fill="#000"/>
<line x1="421.8" y1="294.6" x2="421.8" y2="300" stroke="#111" stroke-width="1"/>
<line x1="419.2" y1="294.6" x2="424.4" y2="294.6" stroke="#111" stroke-width="1"/>
<line x1="419.2" y1="300" x2="424.4" y2="300" stroke="#111" stroke-width="1"/>
<circle cx="421.7" cy="277" r="2.2" fill="#000"/>
<circle cx="418.3" cy="294" r="2.2" fill="#000"/>
<circle cx="423.3" cy="294.6" r="2.2" fill="#000"/>
<circle cx="416.5" cy="300.5" r="2.2" fill="#000"/>
<circle cx="421.7" cy="300" r="2.2" fill="#000"/>
<circle cx="426" cy="302" r="2.2" fill="#000"/>
<circle cx="421.7" cy="306.9" r="2.2" fill="#000"/>
<line x1="437.5" y1="271.3" x2="437.5" y2="279" stroke="#111" stroke-width="1"/>
<line x1="434.9" y1="271.3" x2="440.1" y2="271.3" stroke="#111" stroke-width="1"/>
<line x1="434.9" y1="279" x2="440.1" y2="279" stroke="#111" stroke-width="1"/>
<circle cx="437.5" cy="260.8" r="2.2" fill="#000"/>
<circle cx="435" cy="262.3" r="2.2" fill="#000"/>
<circle cx="440.6" cy="268.8" r="2.2" fill="#000"/>
<circle cx="433.4" cy="278.1" r="2.2" fill="#000"/>
<circle cx="437.5" cy="277.7" r="2.2" fill="#000"/>
<circle cx="441.5" cy="278.8" r="2.2" fill="#000"/>
<circle cx="437.5" cy="290" r="2.2" fill="#000"/>
<circle cx="437" cy="271.3" r="2.2" fill="#000"/>
<line x1="453.2" y1="269.2" x2="453.2" y2="278" stroke="#111" stroke-width="1"/>
<line x1="450.6" y1="269.2" x2="455.8" y2="269.2" stroke="#111" stroke-width="1"/>
<line x1="450.6" y1="278" x2="455.8" y2="278" stroke="#111" stroke-width="1"/>
<circle cx="453.2" cy="254.8" r="2.2" fill="#000"/>
<circle cx="453.2" cy="259.7" r="2.2" fill="#000"/>
<circle cx="449.5" cy="271.8" r="2.2" fill="#000"/>
<circle cx="453.2" cy="269.7" r="2.2" fill="#000"/>
<circle cx="453.2" cy="276" r="2.2" fill="#000"/>
<circle cx="449" cy="284.7" r="2.2" fill="#000"/>
<circle cx="453.2" cy="284" r="2.2" fill="#000"/>
<circle cx="457" cy="285.1" r="2.2" fill="#000"/>
<line x1="469" y1="266" x2="469" y2="279" stroke="#111" stroke-width="1"/>
<line x1="466.4" y1="266" x2="471.6" y2="266" stroke="#111" stroke-width="1"/>
<line x1="466.4" y1="279" x2="471.6" y2="279" stroke="#111" stroke-width="1"/>
<circle cx="469" cy="244.3" r="2.2" fill="#000"/>
<circle cx="469" cy="256.1" r="2.2" fill="#000"/>
<circle cx="465" cy="273.5" r="2.2" fill="#000"/>
<circle cx="473" cy="273" r="2.2" fill="#000"/>
<circle cx="469" cy="274.5" r="2.2" fill="#000"/>
<circle cx="465" cy="282.3" r="2.2" fill="#000"/>
<circle cx="473" cy="282.6" r="2.2" fill="#000"/>
<circle cx="469" cy="289.3" r="2.2" fill="#000"/>
<line x1="484.6" y1="281.5" x2="484.6" y2="291" stroke="#111" stroke-width="1"/>
<line x1="482" y1="281.5" x2="487.2" y2="281.5" stroke="#111" stroke-width="1"/>
<line x1="482" y1="291" x2="487.2" y2="291" stroke="#111" stroke-width="1"/>
<circle cx="484.5" cy="270.3" r="2.2" fill="#000"/>
<circle cx="481.3" cy="276" r="2.2" fill="#000"/>
<circle cx="488" cy="273.5" r="2.2" fill="#000"/>
<circle cx="481.5" cy="283" r="2.2" fill="#000"/>
<circle cx="488.5" cy="284.5" r="2.2" fill="#000"/>
<circle cx="481.5" cy="294.2" r="2.2" fill="#000"/>
<circle cx="488.5" cy="296.3" r="2.2" fill="#000"/>
<circle cx="481.5" cy="299.5" r="2.2" fill="#000"/>
<line x1="500.3" y1="257.6" x2="500.3" y2="266" stroke="#111" stroke-width="1"/>
<line x1="497.7" y1="257.6" x2="502.9" y2="257.6" stroke="#111" stroke-width="1"/>
<line x1="497.7" y1="266" x2="502.9" y2="266" stroke="#111" stroke-width="1"/>
<circle cx="500.5" cy="241.7" r="2.2" fill="#000"/>
<circle cx="500.5" cy="252.7" r="2.2" fill="#000"/>
<circle cx="497" cy="260.3" r="2.2" fill="#000"/>
<circle cx="504" cy="258.2" r="2.2" fill="#000"/>
<circle cx="500" cy="262.9" r="2.2" fill="#000"/>
<circle cx="497" cy="266" r="2.2" fill="#000"/>
<circle cx="504" cy="265.4" r="2.2" fill="#000"/>
<circle cx="497" cy="273" r="2.2" fill="#000"/>
<circle cx="504" cy="273" r="2.2" fill="#000"/>
<line x1="327.3" y1="258" x2="343" y2="258" stroke="#444" stroke-width="1.2"/>
<text x="335.15" y="257.3" font-size="5.8" text-anchor="middle" fill="#222" stroke="#222" stroke-width="0.12" >***</text>
<line x1="359" y1="225.7" x2="374.7" y2="225.7" stroke="#444" stroke-width="1.2"/>
<text x="366.85" y="225" font-size="5.8" text-anchor="middle" fill="#222" stroke="#222" stroke-width="0.12" >**</text>
<line x1="421.6" y1="249.1" x2="437.5" y2="249.1" stroke="#444" stroke-width="1.2"/>
<text x="429.55" y="248.4" font-size="5.8" text-anchor="middle" fill="#222" stroke="#222" stroke-width="0.12" >***</text>
<line x1="484.5" y1="230.5" x2="500.5" y2="230.5" stroke="#444" stroke-width="1.2"/>
<text x="492.5" y="229.8" font-size="5.8" text-anchor="middle" fill="#222" stroke="#222" stroke-width="0.12" >***</text>
<polyline points="315.2,368 315.2,371.7 329.6,371.7 329.6,368" fill="none" stroke="#222" stroke-width="1.1" />
<text x="322.4" y="381.2" font-size="6.8" text-anchor="middle" fill="#111" stroke="#111" stroke-width="0.15" >HuMSPC</text>
<polyline points="348.2,368 348.2,371.7 363,371.7 363,368" fill="none" stroke="#222" stroke-width="1.1" />
<text x="355.6" y="381.2" font-size="6.8" text-anchor="middle" fill="#111" stroke="#111" stroke-width="0.15" >Control</text>
<polyline points="381.4,368 381.4,371.7 396.3,371.7 396.3,368" fill="none" stroke="#222" stroke-width="1.1" />
<text x="388.85" y="381.2" font-size="6.8" text-anchor="middle" fill="#111" stroke="#111" stroke-width="0.15" >U937</text>
<polyline points="415,368 415,371.7 430,371.7 430,368" fill="none" stroke="#222" stroke-width="1.1" />
<text x="422.5" y="381.2" font-size="6.8" text-anchor="middle" fill="#111" stroke="#111" stroke-width="0.15" >THP-1</text>
<polyline points="448,368 448,371.7 462.8,371.7 462.8,368" fill="none" stroke="#222" stroke-width="1.1" />
<text x="455.4" y="381.2" font-size="6.8" text-anchor="middle" fill="#111" stroke="#111" stroke-width="0.15" >KG-1</text>
<polyline points="481.2,368 481.2,371.7 496.5,371.7 496.5,368" fill="none" stroke="#222" stroke-width="1.1" />
<text x="488.85" y="381.2" font-size="6.8" text-anchor="middle" fill="#111" stroke="#111" stroke-width="0.15" >OCI-AML3</text>
<line x1="356" y1="385.4" x2="488.8" y2="385.4" stroke="#333" stroke-width="1.2"/>
<text x="422.2" y="394.2" font-size="6.6" text-anchor="middle" fill="#111" stroke="#111" stroke-width="0.1" >Co-culture</text>
<text x="7.2" y="422" font-size="11.8" text-anchor="start" fill="#000" font-weight="bold" stroke="#000" stroke-width="0.4" >F</text>
<line x1="60.5" y1="429.5" x2="60.5" y2="539.3" stroke="#2a2a2a" stroke-width="1.45"/>
<line x1="58" y1="539.3" x2="251.5" y2="539.3" stroke="#2a2a2a" stroke-width="1.45"/>
<line x1="58" y1="539.3" x2="60.5" y2="539.3" stroke="#222" stroke-width="1"/>
<text x="54.5" y="541.7" font-size="6.9" text-anchor="end" fill="#2a2a2a" stroke="#2a2a2a" stroke-width="0.03" >0</text>
<line x1="58" y1="512.3" x2="60.5" y2="512.3" stroke="#222" stroke-width="1"/>
<text x="54.5" y="514.7" font-size="6.9" text-anchor="end" fill="#2a2a2a" stroke="#2a2a2a" stroke-width="0.03" >100</text>
<line x1="58" y1="485.3" x2="60.5" y2="485.3" stroke="#222" stroke-width="1"/>
<text x="54.5" y="487.7" font-size="6.9" text-anchor="end" fill="#2a2a2a" stroke="#2a2a2a" stroke-width="0.03" >200</text>
<line x1="58" y1="458.3" x2="60.5" y2="458.3" stroke="#222" stroke-width="1"/>
<text x="54.5" y="460.7" font-size="6.9" text-anchor="end" fill="#2a2a2a" stroke="#2a2a2a" stroke-width="0.03" >300</text>
<line x1="58" y1="431.3" x2="60.5" y2="431.3" stroke="#222" stroke-width="1"/>
<text x="54.5" y="433.7" font-size="6.9" text-anchor="end" fill="#2a2a2a" stroke="#2a2a2a" stroke-width="0.03" >400</text>
<text x="27" y="483.8" font-size="8.8" text-anchor="middle" fill="#111" stroke="#111" stroke-width="0.1" textLength="82" lengthAdjust="spacingAndGlyphs" transform="rotate(-90 27 483.8)" >MFI of cytoplasmic β-catenin,</text>
<text x="37.6" y="483.8" font-size="8.8" text-anchor="middle" fill="#111" stroke="#111" stroke-width="0.1" textLength="106.2" lengthAdjust="spacingAndGlyphs" transform="rotate(-90 37.6 483.8)" >normalized to HuMSPC with DMSO (%)</text>
<rect x="64.5" y="512.3" width="9.3" height="27" fill="#c5c3c8" />
<line x1="69.15" y1="539.3" x2="69.15" y2="542" stroke="#222" stroke-width="0.9"/>
<text x="72.55" y="549.5" font-size="6.95" text-anchor="end" fill="#111" stroke="#111" stroke-width="0.15" transform="rotate(-45 72.55 549.5)" >DMSO</text>
<rect x="80" y="495.56" width="9.3" height="43.74" fill="#4f5568" />
<line x1="84.65" y1="539.3" x2="84.65" y2="542" stroke="#222" stroke-width="0.9"/>
<text x="88.05" y="549.5" font-size="6.95" text-anchor="end" fill="#111" stroke="#111" stroke-width="0.15" transform="rotate(-45 88.05 549.5)" >SKL2001</text>
<rect x="95.5" y="514.19" width="9.3" height="25.11" fill="#64aae3" />
<line x1="100.15" y1="539.3" x2="100.15" y2="542" stroke="#222" stroke-width="0.9"/>
<text x="103.55" y="549.5" font-size="6.95" text-anchor="end" fill="#111" stroke="#111" stroke-width="0.15" transform="rotate(-45 103.55 549.5)" >DMSO</text>
<rect x="111.3" y="491.24" width="9.3" height="48.06" fill="#2b4d8a" />
<line x1="115.95" y1="539.3" x2="115.95" y2="542" stroke="#222" stroke-width="0.9"/>
<text x="119.35" y="549.5" font-size="6.95" text-anchor="end" fill="#111" stroke="#111" stroke-width="0.15" transform="rotate(-45 119.35 549.5)" >SKL2001</text>
<rect x="127.5" y="497.99" width="9.3" height="41.31" fill="#d68b7d" />
<line x1="132.15" y1="539.3" x2="132.15" y2="542" stroke="#222" stroke-width="0.9"/>
<text x="135.55" y="549.5" font-size="6.95" text-anchor="end" fill="#111" stroke="#111" stroke-width="0.15" transform="rotate(-45 135.55 549.5)" >DMSO</text>
<rect x="143.3" y="490.16" width="9.3" height="49.14" fill="#a8092f" />
<line x1="147.95" y1="539.3" x2="147.95" y2="542" stroke="#222" stroke-width="0.9"/>
<text x="151.35" y="549.5" font-size="6.95" text-anchor="end" fill="#111" stroke="#111" stroke-width="0.15" transform="rotate(-45 151.35 549.5)" >SKL2001</text>
<rect x="159.3" y="503.39" width="9.3" height="35.91" fill="#d68b7d" />
<line x1="163.95" y1="539.3" x2="163.95" y2="542" stroke="#222" stroke-width="0.9"/>
<text x="167.35" y="549.5" font-size="6.95" text-anchor="end" fill="#111" stroke="#111" stroke-width="0.15" transform="rotate(-45 167.35 549.5)" >DMSO</text>
<rect x="175" y="483.14" width="9.3" height="56.16" fill="#a8092f" />
<line x1="179.65" y1="539.3" x2="179.65" y2="542" stroke="#222" stroke-width="0.9"/>
<text x="183.05" y="549.5" font-size="6.95" text-anchor="end" fill="#111" stroke="#111" stroke-width="0.15" transform="rotate(-45 183.05 549.5)" >SKL2001</text>
<rect x="190.8" y="500.96" width="9.3" height="38.34" fill="#d68b7d" />
<line x1="195.45" y1="539.3" x2="195.45" y2="542" stroke="#222" stroke-width="0.9"/>
<text x="198.85" y="549.5" font-size="6.95" text-anchor="end" fill="#111" stroke="#111" stroke-width="0.15" transform="rotate(-45 198.85 549.5)" >DMSO</text>
<rect x="206.3" y="500.42" width="9.3" height="38.88" fill="#a8092f" />
<line x1="210.95" y1="539.3" x2="210.95" y2="542" stroke="#222" stroke-width="0.9"/>
<text x="214.35" y="549.5" font-size="6.95" text-anchor="end" fill="#111" stroke="#111" stroke-width="0.15" transform="rotate(-45 214.35 549.5)" >SKL2001</text>
<rect x="222" y="512.3" width="9.3" height="27" fill="#d68b7d" />
<line x1="226.65" y1="539.3" x2="226.65" y2="542" stroke="#222" stroke-width="0.9"/>
<text x="230.05" y="549.5" font-size="6.95" text-anchor="end" fill="#111" stroke="#111" stroke-width="0.15" transform="rotate(-45 230.05 549.5)" >DMSO</text>
<rect x="238" y="496.1" width="9.3" height="43.2" fill="#a8092f" />
<line x1="242.65" y1="539.3" x2="242.65" y2="542" stroke="#222" stroke-width="0.9"/>
<text x="246.05" y="549.5" font-size="6.95" text-anchor="end" fill="#111" stroke="#111" stroke-width="0.15" transform="rotate(-45 246.05 549.5)" >SKL2001</text>
<circle cx="66.6" cy="512.5" r="2.2" fill="#000"/>
<circle cx="67.9" cy="512.5" r="2.2" fill="#000"/>
<circle cx="69.2" cy="512.5" r="2.2" fill="#000"/>
<circle cx="70.5" cy="512.5" r="2.2" fill="#000"/>
<circle cx="71.8" cy="512.5" r="2.2" fill="#000"/>
<line x1="84.65" y1="488" x2="84.65" y2="503.75" stroke="#111" stroke-width="1"/>
<line x1="82.05" y1="488" x2="87.25" y2="488" stroke="#111" stroke-width="1"/>
<line x1="82.05" y1="503.75" x2="87.25" y2="503.75" stroke="#111" stroke-width="1"/>
<circle cx="84.6" cy="476.25" r="2.2" fill="#000"/>
<circle cx="84.6" cy="483.75" r="2.2" fill="#000"/>
<circle cx="84.6" cy="495" r="2.2" fill="#000"/>
<circle cx="84.6" cy="508" r="2.2" fill="#000"/>
<circle cx="84.6" cy="517.5" r="2.2" fill="#000"/>
<line x1="100.15" y1="507.5" x2="100.15" y2="516" stroke="#111" stroke-width="1"/>
<line x1="97.55" y1="507.5" x2="102.75" y2="507.5" stroke="#111" stroke-width="1"/>
<line x1="97.55" y1="516" x2="102.75" y2="516" stroke="#111" stroke-width="1"/>
<circle cx="100.2" cy="502.5" r="2.2" fill="#000"/>
<circle cx="100.2" cy="509.25" r="2.2" fill="#000"/>
<circle cx="96" cy="517.5" r="2.2" fill="#000"/>
<circle cx="100.2" cy="517.5" r="2.2" fill="#000"/>
<circle cx="104.5" cy="517.5" r="2.2" fill="#000"/>
<line x1="115.95" y1="479.5" x2="115.95" y2="501.25" stroke="#111" stroke-width="1"/>
<line x1="113.35" y1="479.5" x2="118.55" y2="479.5" stroke="#111" stroke-width="1"/>
<line x1="113.35" y1="501.25" x2="118.55" y2="501.25" stroke="#111" stroke-width="1"/>
<circle cx="116" cy="452.5" r="2.2" fill="#000"/>
<circle cx="114" cy="488" r="2.2" fill="#000"/>
<circle cx="116" cy="496.25" r="2.2" fill="#000"/>
<circle cx="120" cy="497.5" r="2.2" fill="#000"/>
<circle cx="116" cy="520" r="2.2" fill="#000"/>
<line x1="132.15" y1="492.5" x2="132.15" y2="503.75" stroke="#111" stroke-width="1"/>
<line x1="129.55" y1="492.5" x2="134.75" y2="492.5" stroke="#111" stroke-width="1"/>
<line x1="129.55" y1="503.75" x2="134.75" y2="503.75" stroke="#111" stroke-width="1"/>
<circle cx="132.1" cy="484.25" r="2.2" fill="#000"/>
<circle cx="127.5" cy="498" r="2.2" fill="#000"/>
<circle cx="136.5" cy="500" r="2.2" fill="#000"/>
<circle cx="132.1" cy="511.25" r="2.2" fill="#000"/>
<line x1="147.95" y1="483" x2="147.95" y2="498" stroke="#111" stroke-width="1"/>
<line x1="145.35" y1="483" x2="150.55" y2="483" stroke="#111" stroke-width="1"/>
<line x1="145.35" y1="498" x2="150.55" y2="498" stroke="#111" stroke-width="1"/>
<circle cx="147.9" cy="471.75" r="2.2" fill="#000"/>
<circle cx="147.9" cy="486.25" r="2.2" fill="#000"/>
<circle cx="143.5" cy="502" r="2.2" fill="#000"/>
<circle cx="152" cy="500" r="2.2" fill="#000"/>
<line x1="163.95" y1="500" x2="163.95" y2="507.5" stroke="#111" stroke-width="1"/>
<line x1="161.35" y1="500" x2="166.55" y2="500" stroke="#111" stroke-width="1"/>
<line x1="161.35" y1="507.5" x2="166.55" y2="507.5" stroke="#111" stroke-width="1"/>
<circle cx="163.75" cy="493" r="2.2" fill="#000"/>
<circle cx="159" cy="498.75" r="2.2" fill="#000"/>
<circle cx="168.5" cy="498.25" r="2.2" fill="#000"/>
<circle cx="159" cy="513.25" r="2.2" fill="#000"/>
<circle cx="168.5" cy="512.5" r="2.2" fill="#000"/>
<line x1="179.65" y1="472.5" x2="179.65" y2="492" stroke="#111" stroke-width="1"/>
<line x1="177.05" y1="472.5" x2="182.25" y2="472.5" stroke="#111" stroke-width="1"/>
<line x1="177.05" y1="492" x2="182.25" y2="492" stroke="#111" stroke-width="1"/>
<circle cx="179.6" cy="453.75" r="2.2" fill="#000"/>
<circle cx="179.6" cy="466.75" r="2.2" fill="#000"/>
<circle cx="179.6" cy="486.25" r="2.2" fill="#000"/>
<circle cx="175" cy="505" r="2.2" fill="#000"/>
<circle cx="184" cy="501.25" r="2.2" fill="#000"/>
<line x1="195.45" y1="498.75" x2="195.45" y2="505" stroke="#111" stroke-width="1"/>
<line x1="192.85" y1="498.75" x2="198.05" y2="498.75" stroke="#111" stroke-width="1"/>
<line x1="192.85" y1="505" x2="198.05" y2="505" stroke="#111" stroke-width="1"/>
<circle cx="195.4" cy="488" r="2.2" fill="#000"/>
<circle cx="191" cy="501.25" r="2.2" fill="#000"/>
<circle cx="200" cy="501.25" r="2.2" fill="#000"/>
<circle cx="195.4" cy="507" r="2.2" fill="#000"/>
<circle cx="195.4" cy="515" r="2.2" fill="#000"/>
<line x1="210.95" y1="496.25" x2="210.95" y2="504" stroke="#111" stroke-width="1"/>
<line x1="208.35" y1="496.25" x2="213.55" y2="496.25" stroke="#111" stroke-width="1"/>
<line x1="208.35" y1="504" x2="213.55" y2="504" stroke="#111" stroke-width="1"/>
<circle cx="207" cy="492" r="2.2" fill="#000"/>
<circle cx="215" cy="493" r="2.2" fill="#000"/>
<circle cx="207" cy="500.5" r="2.2" fill="#000"/>
<circle cx="215" cy="502.5" r="2.2" fill="#000"/>
<circle cx="211" cy="512.5" r="2.2" fill="#000"/>
<line x1="226.65" y1="507.5" x2="226.65" y2="517.5" stroke="#111" stroke-width="1"/>
<line x1="224.05" y1="507.5" x2="229.25" y2="507.5" stroke="#111" stroke-width="1"/>
<line x1="224.05" y1="517.5" x2="229.25" y2="517.5" stroke="#111" stroke-width="1"/>
<circle cx="222.5" cy="501.25" r="2.2" fill="#000"/>
<circle cx="230.5" cy="502.5" r="2.2" fill="#000"/>
<circle cx="222" cy="513" r="2.2" fill="#000"/>
<circle cx="231" cy="513.75" r="2.2" fill="#000"/>
<circle cx="226.6" cy="525" r="2.2" fill="#000"/>
<line x1="242.65" y1="493" x2="242.65" y2="499.5" stroke="#111" stroke-width="1"/>
<line x1="240.05" y1="493" x2="245.25" y2="493" stroke="#111" stroke-width="1"/>
<line x1="240.05" y1="499.5" x2="245.25" y2="499.5" stroke="#111" stroke-width="1"/>
<circle cx="242.5" cy="485.75" r="2.2" fill="#000"/>
<circle cx="238.5" cy="492" r="2.2" fill="#000"/>
<circle cx="247" cy="498" r="2.2" fill="#000"/>
<circle cx="242.5" cy="507" r="2.2" fill="#000"/>
<circle cx="242.5" cy="495.5" r="2.2" fill="#000"/>
<line x1="226.75" y1="468.75" x2="242" y2="468.75" stroke="#444" stroke-width="1.1"/>
<text x="234.3" y="468" font-size="5.8" text-anchor="middle" fill="#222" stroke="#222" stroke-width="0.12" >*</text>
<polyline points="61.2,573 61.2,576.7 75.5,576.7 75.5,573" fill="none" stroke="#222" stroke-width="1.1" />
<text x="68.35" y="586.2" font-size="6.8" text-anchor="middle" fill="#111" stroke="#111" stroke-width="0.15" >HuMSPC</text>
<polyline points="92.9,573 92.9,576.7 107.3,576.7 107.3,573" fill="none" stroke="#222" stroke-width="1.1" />
<text x="100.1" y="586.2" font-size="6.8" text-anchor="middle" fill="#111" stroke="#111" stroke-width="0.15" >Control</text>
<polyline points="124.2,573 124.2,576.7 139,576.7 139,573" fill="none" stroke="#222" stroke-width="1.1" />
<text x="131.6" y="586.2" font-size="6.8" text-anchor="middle" fill="#111" stroke="#111" stroke-width="0.15" >U937</text>
<polyline points="156.2,573 156.2,576.7 170.5,576.7 170.5,573" fill="none" stroke="#222" stroke-width="1.1" />
<text x="163.35" y="586.2" font-size="6.8" text-anchor="middle" fill="#111" stroke="#111" stroke-width="0.15" >THP-1</text>
<polyline points="187.3,573 187.3,576.7 202.3,576.7 202.3,573" fill="none" stroke="#222" stroke-width="1.1" />
<text x="194.8" y="586.2" font-size="6.8" text-anchor="middle" fill="#111" stroke="#111" stroke-width="0.15" >KG-1</text>
<polyline points="219.2,573 219.2,576.7 233.5,576.7 233.5,573" fill="none" stroke="#222" stroke-width="1.1" />
<text x="226.35" y="586.2" font-size="6.8" text-anchor="middle" fill="#111" stroke="#111" stroke-width="0.15" >OCI-AML3</text>
<line x1="100.3" y1="590.2" x2="226.5" y2="590.2" stroke="#333" stroke-width="1"/>
<text x="163.4" y="599.4" font-size="6.6" text-anchor="middle" fill="#111" stroke="#111" stroke-width="0.1" >Co-culture</text>
<text x="267.3" y="422" font-size="11.8" text-anchor="start" fill="#000" font-weight="bold" stroke="#000" stroke-width="0.4" >G</text>
<line x1="320" y1="428.8" x2="320" y2="539.3" stroke="#2a2a2a" stroke-width="1.45"/>
<line x1="317.5" y1="539.3" x2="512.7" y2="539.3" stroke="#2a2a2a" stroke-width="1.45"/>
<line x1="317.5" y1="539.3" x2="320" y2="539.3" stroke="#222" stroke-width="1"/>
<text x="313.8" y="541.5" font-size="6.3" text-anchor="end" fill="#2a2a2a" stroke="#2a2a2a" stroke-width="0.03" >0</text>
<line x1="317.5" y1="517.67" x2="320" y2="517.67" stroke="#222" stroke-width="1"/>
<text x="313.8" y="519.88" font-size="6.3" text-anchor="end" fill="#2a2a2a" stroke="#2a2a2a" stroke-width="0.03" >0.5</text>
<line x1="317.5" y1="496.05" x2="320" y2="496.05" stroke="#222" stroke-width="1"/>
<text x="313.8" y="498.25" font-size="6.3" text-anchor="end" fill="#2a2a2a" stroke="#2a2a2a" stroke-width="0.03" >1.0</text>
<line x1="317.5" y1="474.42" x2="320" y2="474.42" stroke="#222" stroke-width="1"/>
<text x="313.8" y="476.62" font-size="6.3" text-anchor="end" fill="#2a2a2a" stroke="#2a2a2a" stroke-width="0.03" >1.5</text>
<line x1="317.5" y1="452.8" x2="320" y2="452.8" stroke="#222" stroke-width="1"/>
<text x="313.8" y="455" font-size="6.3" text-anchor="end" fill="#2a2a2a" stroke="#2a2a2a" stroke-width="0.03" >2.0</text>
<line x1="317.5" y1="431.17" x2="320" y2="431.17" stroke="#222" stroke-width="1"/>
<text x="313.8" y="433.37" font-size="6.3" text-anchor="end" fill="#2a2a2a" stroke="#2a2a2a" stroke-width="0.03" >2.5</text>
<text x="299.2" y="483.7" font-size="8.8" text-anchor="middle" fill="#111" stroke="#111" stroke-width="0.1" textLength="18.1" lengthAdjust="spacingAndGlyphs" transform="rotate(-90 299.2 483.7)" >OD450</text>
<rect x="323.75" y="484.8" width="9.4" height="54.5" fill="#c5c3c8" />
<line x1="328.45" y1="539.3" x2="328.45" y2="542" stroke="#222" stroke-width="0.9"/>
<text x="331.65" y="548.5" font-size="6.3" text-anchor="end" fill="#111" stroke="#111" stroke-width="0.1" transform="rotate(-45 331.65 548.5)" >Empty vector</text>
<rect x="340" y="479.18" width="9.4" height="60.12" fill="#4f5568" />
<line x1="344.7" y1="539.3" x2="344.7" y2="542" stroke="#222" stroke-width="0.9"/>
<text x="347.9" y="548.5" font-size="6.1" text-anchor="end" fill="#111" stroke="#111" stroke-width="0.1" transform="rotate(-45 347.9 548.5)" >overexpressed</text>
<rect x="355.75" y="519.84" width="9.4" height="19.46" fill="#64aae3" />
<line x1="360.45" y1="539.3" x2="360.45" y2="542" stroke="#222" stroke-width="0.9"/>
<text x="363.65" y="548.5" font-size="6.3" text-anchor="end" fill="#111" stroke="#111" stroke-width="0.1" transform="rotate(-45 363.65 548.5)" >Empty vector</text>
<rect x="371.75" y="498.64" width="9.4" height="40.65" fill="#2b4d8a" />
<line x1="376.45" y1="539.3" x2="376.45" y2="542" stroke="#222" stroke-width="0.9"/>
<text x="379.65" y="548.5" font-size="6.1" text-anchor="end" fill="#111" stroke="#111" stroke-width="0.1" transform="rotate(-45 379.65 548.5)" >overexpressed</text>
<rect x="387.5" y="513.78" width="9.4" height="25.52" fill="#d68b7d" />
<line x1="392.2" y1="539.3" x2="392.2" y2="542" stroke="#222" stroke-width="0.9"/>
<text x="395.4" y="548.5" font-size="6.3" text-anchor="end" fill="#111" stroke="#111" stroke-width="0.1" transform="rotate(-45 395.4 548.5)" >Empty vector</text>
<rect x="403.7" y="481.78" width="9.4" height="57.52" fill="#a8092f" />
<line x1="408.4" y1="539.3" x2="408.4" y2="542" stroke="#222" stroke-width="0.9"/>
<text x="411.6" y="548.5" font-size="6.1" text-anchor="end" fill="#111" stroke="#111" stroke-width="0.1" transform="rotate(-45 411.6 548.5)" >overexpressed</text>
<rect x="419.6" y="484.37" width="9.4" height="54.93" fill="#d68b7d" />
<line x1="424.3" y1="539.3" x2="424.3" y2="542" stroke="#222" stroke-width="0.9"/>
<text x="427.5" y="548.5" font-size="6.3" text-anchor="end" fill="#111" stroke="#111" stroke-width="0.1" transform="rotate(-45 427.5 548.5)" >Empty vector</text>
<rect x="435.7" y="486.53" width="9.4" height="52.76" fill="#a8092f" />
<line x1="440.4" y1="539.3" x2="440.4" y2="542" stroke="#222" stroke-width="0.9"/>
<text x="443.6" y="548.5" font-size="6.1" text-anchor="end" fill="#111" stroke="#111" stroke-width="0.1" transform="rotate(-45 443.6 548.5)" >overexpressed</text>
<rect x="451.4" y="476.59" width="9.4" height="62.71" fill="#d68b7d" />
<line x1="456.1" y1="539.3" x2="456.1" y2="542" stroke="#222" stroke-width="0.9"/>
<text x="459.3" y="548.5" font-size="6.3" text-anchor="end" fill="#111" stroke="#111" stroke-width="0.1" transform="rotate(-45 459.3 548.5)" >Empty vector</text>
<rect x="467.5" y="480.05" width="9.4" height="59.25" fill="#a8092f" />
<line x1="472.2" y1="539.3" x2="472.2" y2="542" stroke="#222" stroke-width="0.9"/>
<text x="475.4" y="548.5" font-size="6.1" text-anchor="end" fill="#111" stroke="#111" stroke-width="0.1" transform="rotate(-45 475.4 548.5)" >overexpressed</text>
<rect x="483.7" y="478.32" width="9.4" height="60.98" fill="#d68b7d" />
<line x1="488.4" y1="539.3" x2="488.4" y2="542" stroke="#222" stroke-width="0.9"/>
<text x="491.6" y="548.5" font-size="6.3" text-anchor="end" fill="#111" stroke="#111" stroke-width="0.1" transform="rotate(-45 491.6 548.5)" >Empty vector</text>
<rect x="499.3" y="478.32" width="9.4" height="60.98" fill="#a8092f" />
<line x1="504" y1="539.3" x2="504" y2="542" stroke="#222" stroke-width="0.9"/>
<text x="507.2" y="548.5" font-size="6.1" text-anchor="end" fill="#111" stroke="#111" stroke-width="0.1" transform="rotate(-45 507.2 548.5)" >overexpressed</text>
<line x1="328.45" y1="468.25" x2="328.45" y2="501.25" stroke="#111" stroke-width="1"/>
<line x1="325.85" y1="468.25" x2="331.05" y2="468.25" stroke="#111" stroke-width="1"/>
<line x1="325.85" y1="501.25" x2="331.05" y2="501.25" stroke="#111" stroke-width="1"/>
<circle cx="328.45" cy="452.5" r="1.85" fill="#000"/>
<circle cx="328.45" cy="498.25" r="1.85" fill="#000"/>
<circle cx="328.45" cy="503.25" r="1.85" fill="#000"/>
<line x1="344.7" y1="465" x2="344.7" y2="492.5" stroke="#111" stroke-width="1"/>
<line x1="342.1" y1="465" x2="347.3" y2="465" stroke="#111" stroke-width="1"/>
<line x1="342.1" y1="492.5" x2="347.3" y2="492.5" stroke="#111" stroke-width="1"/>
<circle cx="344.7" cy="452.5" r="1.85" fill="#000"/>
<circle cx="344.7" cy="490.5" r="1.85" fill="#000"/>
<circle cx="344.7" cy="492.5" r="1.85" fill="#000"/>
<line x1="360.45" y1="516.25" x2="360.45" y2="521.5" stroke="#111" stroke-width="1"/>
<line x1="357.85" y1="516.25" x2="363.05" y2="516.25" stroke="#111" stroke-width="1"/>
<line x1="357.85" y1="521.5" x2="363.05" y2="521.5" stroke="#111" stroke-width="1"/>
<circle cx="360.45" cy="514.25" r="1.85" fill="#000"/>
<circle cx="357.05" cy="521.75" r="1.85" fill="#000"/>
<circle cx="363.85" cy="521.75" r="1.85" fill="#000"/>
<line x1="376.45" y1="491.25" x2="376.45" y2="507" stroke="#111" stroke-width="1"/>
<line x1="373.85" y1="491.25" x2="379.05" y2="491.25" stroke="#111" stroke-width="1"/>
<line x1="373.85" y1="507" x2="379.05" y2="507" stroke="#111" stroke-width="1"/>
<circle cx="376.45" cy="485" r="1.85" fill="#000"/>
<circle cx="373.05" cy="505" r="1.85" fill="#000"/>
<circle cx="379.85" cy="505" r="1.85" fill="#000"/>
<line x1="392.2" y1="509" x2="392.2" y2="515.8" stroke="#111" stroke-width="1"/>
<line x1="389.6" y1="509" x2="394.8" y2="509" stroke="#111" stroke-width="1"/>
<line x1="389.6" y1="515.8" x2="394.8" y2="515.8" stroke="#111" stroke-width="1"/>
<circle cx="392.2" cy="509.9" r="1.85" fill="#000"/>
<circle cx="392.2" cy="511.7" r="1.85" fill="#000"/>
<circle cx="392.2" cy="518" r="1.85" fill="#000"/>
<line x1="408.4" y1="473.2" x2="408.4" y2="488.9" stroke="#111" stroke-width="1"/>
<line x1="405.8" y1="473.2" x2="411" y2="473.2" stroke="#111" stroke-width="1"/>
<line x1="405.8" y1="488.9" x2="411" y2="488.9" stroke="#111" stroke-width="1"/>
<circle cx="408.4" cy="467.3" r="1.85" fill="#000"/>
<circle cx="408.4" cy="481.6" r="1.85" fill="#000"/>
<circle cx="408.4" cy="494.8" r="1.85" fill="#000"/>
<line x1="424.3" y1="475.4" x2="424.3" y2="492.9" stroke="#111" stroke-width="1"/>
<line x1="421.7" y1="475.4" x2="426.9" y2="475.4" stroke="#111" stroke-width="1"/>
<line x1="421.7" y1="492.9" x2="426.9" y2="492.9" stroke="#111" stroke-width="1"/>
<circle cx="424.3" cy="467.3" r="1.85" fill="#000"/>
<circle cx="424.3" cy="491" r="1.85" fill="#000"/>
<circle cx="424.3" cy="492.4" r="1.85" fill="#000"/>
<line x1="440.4" y1="476.7" x2="440.4" y2="494.8" stroke="#111" stroke-width="1"/>
<line x1="437.8" y1="476.7" x2="443" y2="476.7" stroke="#111" stroke-width="1"/>
<line x1="437.8" y1="494.8" x2="443" y2="494.8" stroke="#111" stroke-width="1"/>
<circle cx="440.4" cy="469.2" r="1.85" fill="#000"/>
<circle cx="440.4" cy="488.3" r="1.85" fill="#000"/>
<circle cx="440.4" cy="500.2" r="1.85" fill="#000"/>
<line x1="456.1" y1="466.8" x2="456.1" y2="486.7" stroke="#111" stroke-width="1"/>
<line x1="453.5" y1="466.8" x2="458.7" y2="466.8" stroke="#111" stroke-width="1"/>
<line x1="453.5" y1="486.7" x2="458.7" y2="486.7" stroke="#111" stroke-width="1"/>
<circle cx="456.1" cy="460" r="1.85" fill="#000"/>
<circle cx="456.1" cy="478.1" r="1.85" fill="#000"/>
<circle cx="456.1" cy="492.4" r="1.85" fill="#000"/>
<line x1="472.2" y1="471.4" x2="472.2" y2="488.9" stroke="#111" stroke-width="1"/>
<line x1="469.6" y1="471.4" x2="474.8" y2="471.4" stroke="#111" stroke-width="1"/>
<line x1="469.6" y1="488.9" x2="474.8" y2="488.9" stroke="#111" stroke-width="1"/>
<circle cx="472.2" cy="464.1" r="1.85" fill="#000"/>
<circle cx="472.2" cy="486.7" r="1.85" fill="#000"/>
<circle cx="472.2" cy="488" r="1.85" fill="#000"/>
<line x1="488.4" y1="470.5" x2="488.4" y2="486.7" stroke="#111" stroke-width="1"/>
<line x1="485.8" y1="470.5" x2="491" y2="470.5" stroke="#111" stroke-width="1"/>
<line x1="485.8" y1="486.7" x2="491" y2="486.7" stroke="#111" stroke-width="1"/>
<circle cx="488.4" cy="466.5" r="1.85" fill="#000"/>
<circle cx="488.4" cy="475.4" r="1.85" fill="#000"/>
<circle cx="488.4" cy="493.7" r="1.85" fill="#000"/>
<line x1="504" y1="469.5" x2="504" y2="486.2" stroke="#111" stroke-width="1"/>
<line x1="501.4" y1="469.5" x2="506.6" y2="469.5" stroke="#111" stroke-width="1"/>
<line x1="501.4" y1="486.2" x2="506.6" y2="486.2" stroke="#111" stroke-width="1"/>
<circle cx="504" cy="462.5" r="1.85" fill="#000"/>
<circle cx="504" cy="482.7" r="1.85" fill="#000"/>
<circle cx="504" cy="489.4" r="1.85" fill="#000"/>
<line x1="360.5" y1="472.5" x2="376.25" y2="472.5" stroke="#444" stroke-width="1.1"/>
<text x="368.3" y="471.8" font-size="5.8" text-anchor="middle" fill="#222" stroke="#222" stroke-width="0.12" >*</text>
<line x1="392.1" y1="452.5" x2="407.7" y2="452.5" stroke="#444" stroke-width="1.1"/>
<text x="400" y="451.8" font-size="5.8" text-anchor="middle" fill="#222" stroke="#222" stroke-width="0.12" >*</text>
<polyline points="308.5,582.3 308.5,585.3 322.3,585.3 322.3,582.3" fill="none" stroke="#222" stroke-width="1.1" />
<text x="315.4" y="593.8" font-size="6.5" text-anchor="middle" fill="#111" stroke="#111" stroke-width="0.1" >SaOS2</text>
<polyline points="341.2,582.3 341.2,585.3 355.3,585.3 355.3,582.3" fill="none" stroke="#222" stroke-width="1.1" />
<text x="348.25" y="593.8" font-size="6.5" text-anchor="middle" fill="#111" stroke="#111" stroke-width="0.1" >U937</text>
<polyline points="373.5,582.3 373.5,585.3 388.5,585.3 388.5,582.3" fill="none" stroke="#222" stroke-width="1.1" />
<text x="381" y="593.8" font-size="6.5" text-anchor="middle" fill="#111" stroke="#111" stroke-width="0.1" >THP-1</text>
<polyline points="406.5,582.3 406.5,585.3 420.8,585.3 420.8,582.3" fill="none" stroke="#222" stroke-width="1.1" />
<text x="413.65" y="593.8" font-size="6.5" text-anchor="middle" fill="#111" stroke="#111" stroke-width="0.1" >OCI-AML3</text>
<polyline points="439.2,582.3 439.2,585.3 453.5,585.3 453.5,582.3" fill="none" stroke="#222" stroke-width="1.1" />
<text x="446.35" y="593.8" font-size="6.5" text-anchor="middle" fill="#111" stroke="#111" stroke-width="0.1" >MOLM-13</text>
<polyline points="471.5,582.3 471.5,585.3 486.5,585.3 486.5,582.3" fill="none" stroke="#222" stroke-width="1.1" />
<text x="479" y="593.8" font-size="6.5" text-anchor="middle" fill="#111" stroke="#111" stroke-width="0.1" >Kasumi-1</text>
<line x1="348.8" y1="598.9" x2="478.5" y2="598.9" stroke="#333" stroke-width="1"/>
<text x="413.6" y="608.2" font-size="6.6" text-anchor="middle" fill="#111" stroke="#111" stroke-width="0.1" >Co-culture</text>
</svg></body></html>
